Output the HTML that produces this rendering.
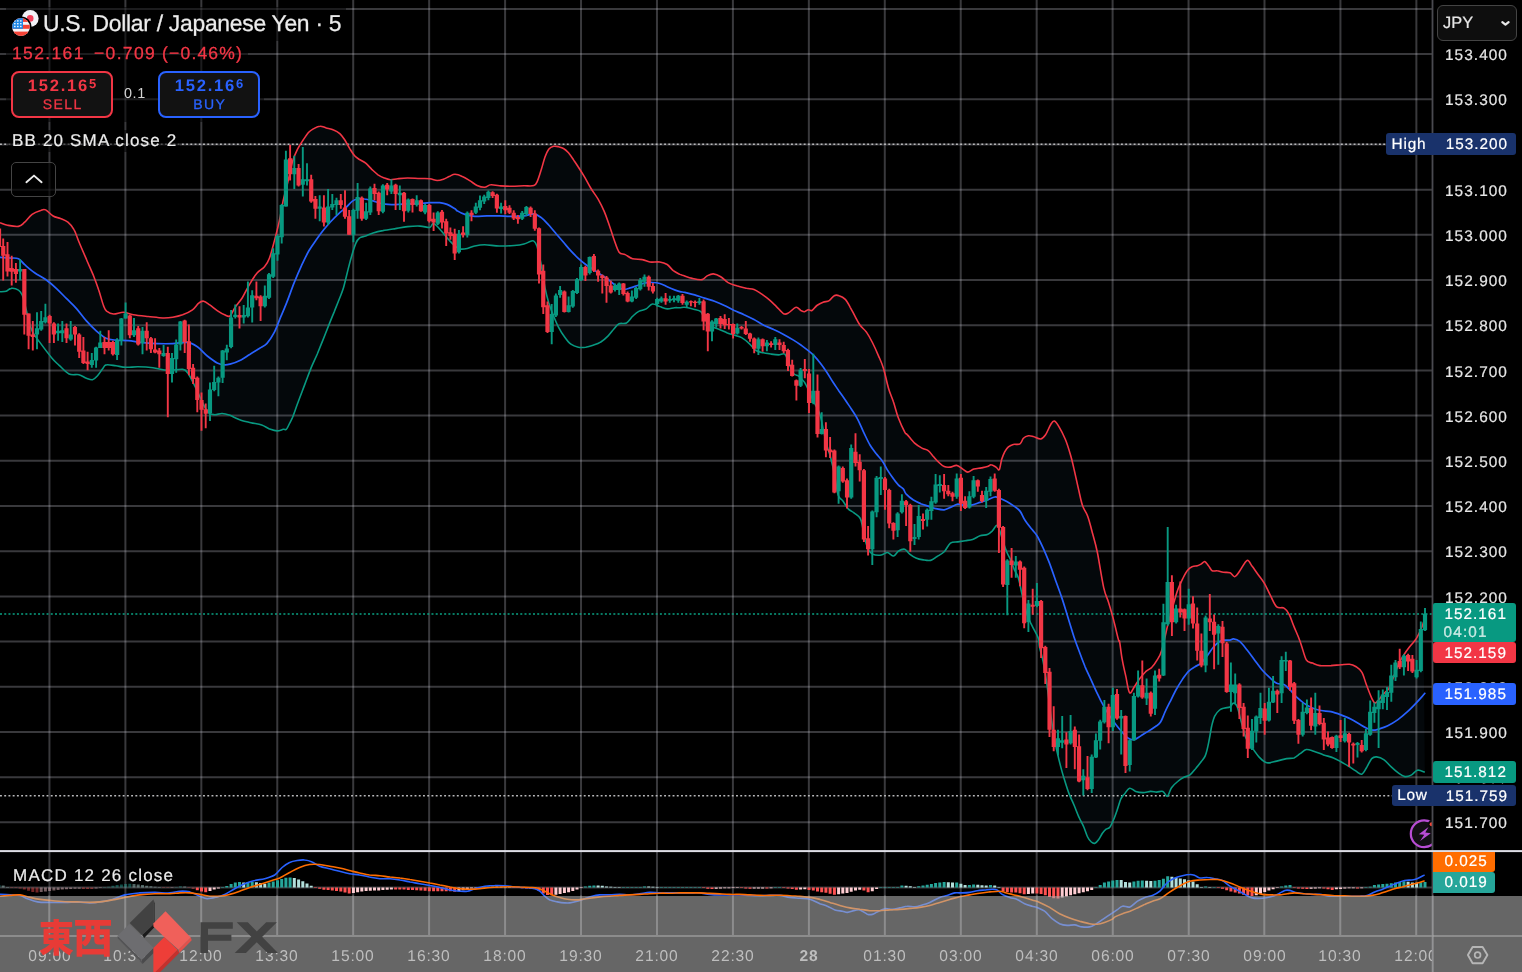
<!DOCTYPE html><html><head><meta charset="utf-8"><title>USDJPY</title><style>
html,body{margin:0;padding:0;background:#000;}
body{width:1522px;height:972px;overflow:hidden;position:relative;font-family:"Liberation Sans",sans-serif;color:#e6e6e6;text-rendering:geometricPrecision;}
svg{position:absolute;left:0;top:0;}
.t,.pl,.tag,.tl,.box{will-change:transform;}
.t{position:absolute;white-space:nowrap;line-height:1;}
.pl{position:absolute;left:1444.9px;font-size:15.4px;letter-spacing:1.05px;color:#e6e6e6;line-height:1;white-space:nowrap;-webkit-text-stroke:0.2px #e6e6e6;}
.tag{position:absolute;left:1433px;width:83px;box-sizing:border-box;color:#fff;font-size:15.3px;letter-spacing:1.0px;line-height:1;white-space:nowrap;border-radius:3px;-webkit-text-stroke:0.2px #fff;}
.tag span{position:absolute;left:11.6px;}
.tl{position:absolute;top:947.2px;font-size:15.6px;letter-spacing:0.85px;color:#bebebe;line-height:1;white-space:nowrap;transform:translateX(-50%);}
.box{position:absolute;top:71px;width:102px;height:46.5px;box-sizing:border-box;border-radius:8px;background:#121212;text-align:center;}
.box b{position:absolute;left:0;right:0;top:5.4px;font-size:16.6px;letter-spacing:1.75px;line-height:1;}
.box b sup{font-size:13px;position:relative;top:-3.4px;vertical-align:baseline;letter-spacing:0;line-height:0;}
.box i{position:absolute;left:0;right:0;top:24.3px;font-style:normal;font-size:14px;letter-spacing:1.45px;line-height:1;padding-left:1.45px;-webkit-text-stroke:0.3px currentColor;}
</style></head><body>
<svg width="1522" height="972" viewBox="0 0 1522 972"><path d="M0.0 222.7C1.2 223.1 4.3 224.6 7.4 225.2C10.5 225.8 15.6 226.9 18.5 226.4C21.4 225.9 22.4 224.2 24.7 222.2C26.9 220.2 29.4 216.3 32.1 214.3C34.8 212.3 38.5 211.1 40.7 210.4C43.0 209.6 43.6 208.9 45.7 209.9C47.7 210.8 50.6 214.6 53.1 216.0C55.5 217.5 58.0 217.5 60.5 218.5C62.9 219.5 65.6 220.4 67.9 222.2C70.1 224.1 72.2 226.3 74.0 229.6C75.9 232.9 76.9 237.0 79.0 242.0C81.0 246.9 83.9 253.5 86.4 259.2C88.8 265.0 91.7 271.4 93.8 276.5C95.8 281.6 97.1 285.1 98.7 290.1C100.4 295.0 102.3 302.6 103.7 306.1C105.0 309.6 105.0 309.7 106.6 311.1C108.3 312.4 110.7 313.8 113.5 314.0C116.3 314.2 120.1 312.2 123.4 312.3C126.7 312.4 129.2 314.1 133.3 314.8C137.4 315.5 143.1 316.0 148.1 316.5C153.0 317.0 158.8 317.8 162.9 318.0C167.0 318.1 169.5 317.8 172.8 317.2C176.0 316.7 179.3 316.0 182.6 314.8C185.9 313.5 189.8 311.8 192.5 309.8C195.2 307.9 196.8 304.6 198.7 303.2C200.5 301.7 201.8 300.9 203.6 301.2C205.5 301.5 207.5 303.3 209.8 304.9C212.0 306.4 214.7 308.9 217.2 310.6C219.6 312.2 222.4 313.9 224.6 314.8C226.7 315.7 228.3 317.2 230.0 316.0C231.7 314.8 232.8 310.6 234.9 307.6C236.9 304.5 239.8 301.6 242.3 297.7C244.7 293.8 247.2 288.2 249.7 284.1C252.1 280.0 254.6 275.9 257.1 273.0C259.6 270.1 262.4 269.3 264.5 266.8C266.5 264.4 267.8 262.5 269.4 258.2C271.1 253.9 272.7 247.1 274.4 240.9C276.0 234.8 277.9 227.8 279.3 221.2C280.7 214.6 281.6 208.0 283.0 201.4C284.4 194.9 286.4 188.3 287.9 181.7C289.5 175.1 290.8 167.3 292.4 162.0C293.9 156.6 295.5 153.2 297.3 149.6C299.1 146.0 301.1 143.1 303.0 140.2C304.9 137.4 306.9 134.3 308.7 132.3C310.5 130.4 312.0 129.7 313.8 128.6C315.7 127.6 318.0 126.3 320.0 126.2C322.1 126.0 323.9 127.3 326.2 127.9C328.4 128.5 331.3 128.9 333.6 129.9C335.9 130.8 337.9 131.9 339.8 133.6C341.6 135.2 343.0 137.3 344.7 139.7C346.3 142.2 348.0 145.7 349.6 148.4C351.3 151.1 352.9 153.9 354.6 155.8C356.2 157.6 357.7 158.3 359.5 159.5C361.4 160.7 363.6 161.5 365.7 163.2C367.7 164.8 369.8 167.4 371.8 169.4C373.9 171.3 376.0 173.3 378.0 174.8C380.1 176.2 382.1 177.2 384.2 178.0C386.2 178.8 388.1 179.6 390.4 179.7C392.6 179.8 394.9 179.0 397.8 178.7C400.6 178.4 403.9 178.0 407.6 178.0C411.3 178.0 416.3 178.4 420.0 178.5C423.7 178.6 427.0 178.4 429.8 178.7C432.7 179.1 435.0 180.4 437.2 180.5C439.5 180.5 441.4 179.9 443.4 179.2C445.5 178.5 447.6 177.1 449.6 176.3C451.5 175.4 452.9 174.3 455.0 174.3C457.1 174.3 459.9 175.3 462.3 176.4C464.8 177.4 467.3 179.1 469.7 180.6C472.2 182.1 474.7 184.4 477.1 185.5C479.6 186.6 482.3 187.4 484.6 187.3C486.8 187.1 488.3 185.0 490.7 184.8C493.2 184.5 495.9 185.5 499.4 185.8C502.9 186.0 507.6 186.3 511.7 186.3C515.8 186.3 520.3 185.9 524.0 185.8C527.7 185.7 531.6 186.4 533.9 185.5C536.2 184.7 536.4 183.3 537.6 180.6C538.8 177.9 540.1 173.4 541.3 169.5C542.5 165.6 543.8 160.5 545.0 157.1C546.2 153.8 547.3 151.1 548.7 149.2C550.2 147.4 552.0 146.7 553.7 146.3C555.3 145.9 556.9 146.4 558.6 146.8C560.2 147.2 561.9 147.5 563.5 148.5C565.2 149.5 566.8 150.9 568.5 152.7C570.1 154.6 571.8 157.2 573.4 159.6C575.0 162.0 576.5 164.1 578.3 167.0C580.2 169.9 582.4 173.4 584.5 176.9C586.6 180.4 588.4 184.3 590.7 188.0C592.9 191.7 595.8 195.2 598.1 199.1C600.3 203.0 602.4 207.1 604.2 211.4C606.1 215.8 607.5 220.3 609.2 225.0C610.8 229.7 612.5 235.3 614.1 239.8C615.8 244.3 617.2 249.7 619.1 252.2C620.9 254.6 623.0 253.5 625.2 254.6C627.5 255.7 629.7 258.0 632.6 258.8C635.5 259.6 639.6 259.0 642.5 259.6C645.4 260.1 647.0 261.6 649.9 262.0C652.8 262.4 656.9 261.6 659.8 262.0C662.7 262.4 664.9 263.1 667.2 264.5C669.4 265.9 671.2 269.0 673.3 270.7C675.5 272.3 678.5 273.6 680.0 274.4C681.5 275.1 680.4 274.5 682.4 275.2C684.4 275.8 689.0 277.6 692.3 278.4C695.6 279.1 699.7 280.0 702.1 279.6C704.6 279.2 705.2 276.9 707.1 275.9C708.9 275.0 711.0 273.8 713.3 273.9C715.5 274.1 718.2 275.2 720.7 276.7C723.1 278.1 725.4 281.1 728.1 282.6C730.7 284.1 733.6 284.8 736.7 285.8C739.8 286.7 743.7 287.6 746.6 288.3C749.4 288.9 751.5 288.5 754.0 289.5C756.4 290.4 758.9 292.3 761.4 293.9C763.8 295.6 766.3 297.3 768.8 299.4C771.2 301.4 773.7 303.9 776.2 306.3C778.7 308.7 781.5 312.6 783.6 313.7C785.6 314.8 786.5 314.0 788.5 312.9C790.6 311.9 793.9 307.7 795.9 307.3C798.0 306.8 799.4 309.7 800.9 310.5C802.3 311.2 803.3 311.8 804.6 311.7C805.8 311.6 807.0 309.9 808.3 309.7C809.5 309.5 810.5 311.2 812.0 310.5C813.4 309.8 815.1 306.9 816.9 305.5C818.8 304.2 821.0 303.1 823.1 302.3C825.1 301.5 827.4 301.7 829.2 300.6C831.1 299.5 832.5 296.5 834.2 295.7C835.8 294.8 837.3 295.0 839.1 295.7C841.0 296.3 843.4 297.4 845.3 299.4C847.1 301.3 848.6 304.4 850.2 307.3C851.9 310.1 853.5 313.6 855.2 316.6C856.8 319.6 858.2 322.7 860.1 325.3C861.9 327.8 864.2 329.1 866.3 331.9C868.3 334.8 870.4 338.5 872.4 342.5C874.5 346.6 876.8 351.8 878.6 356.1C880.5 360.4 881.9 363.1 883.5 368.5C885.2 373.8 886.8 382.7 888.5 388.2C890.1 393.8 891.8 396.8 893.4 401.8C895.1 406.7 896.4 412.7 898.3 417.8C900.3 423.0 903.5 429.8 905.0 432.6C906.5 435.4 905.6 432.8 907.2 434.6C908.8 436.3 912.2 440.9 914.6 443.2C917.1 445.5 919.8 446.9 922.0 448.1C924.3 449.4 926.4 449.2 928.2 450.6C930.1 451.9 931.5 454.4 933.1 456.3C934.8 458.1 936.2 460.0 938.1 461.7C939.9 463.4 942.2 465.7 944.2 466.6C946.3 467.5 948.4 467.3 950.4 467.1C952.5 466.9 954.5 465.1 956.6 465.4C958.6 465.7 960.9 468.0 962.8 469.1C964.6 470.2 965.8 472.1 967.7 472.1C969.5 472.1 971.6 469.8 973.9 469.1C976.1 468.4 979.0 468.3 981.3 467.9C983.5 467.5 985.8 467.2 987.4 466.6C989.1 466.1 989.7 464.6 991.1 464.7C992.6 464.7 994.7 466.3 996.1 467.1C997.4 467.9 998.3 470.9 999.3 469.6C1000.2 468.3 1000.8 462.2 1001.7 459.2C1002.7 456.3 1003.6 453.9 1004.7 451.8C1005.8 449.8 1007.0 448.1 1008.4 446.9C1009.9 445.7 1011.4 444.9 1013.3 444.4C1015.3 443.9 1018.3 445.0 1020.0 443.9C1021.7 442.9 1022.1 439.6 1023.4 438.3C1024.8 436.9 1026.7 436.1 1028.4 435.8C1030.0 435.5 1031.3 436.0 1033.3 436.5C1035.4 437.1 1038.7 439.3 1040.7 439.0C1042.8 438.7 1044.0 436.9 1045.7 434.6C1047.3 432.2 1049.2 426.9 1050.6 424.7C1052.0 422.4 1052.9 420.6 1054.3 421.0C1055.7 421.4 1057.4 424.1 1059.2 427.1C1061.1 430.2 1063.5 435.0 1065.4 439.5C1067.3 444.0 1068.9 449.4 1070.3 454.3C1071.8 459.2 1072.6 462.9 1074.0 469.1C1075.5 475.3 1077.5 485.1 1079.0 491.3C1080.4 497.5 1081.2 502.0 1082.7 506.1C1084.1 510.2 1086.0 511.5 1087.6 516.0C1089.3 520.5 1090.9 527.1 1092.5 533.3C1094.2 539.4 1095.6 544.0 1097.5 553.0C1099.3 562.1 1101.8 579.3 1103.7 587.6C1105.5 595.8 1106.9 597.0 1108.6 602.4C1110.2 607.7 1111.9 613.4 1113.5 619.6C1115.2 625.9 1117.4 636.1 1118.5 639.9C1119.5 643.6 1119.1 638.8 1119.7 642.1C1120.3 645.3 1121.1 653.6 1122.2 659.4C1123.2 665.1 1124.6 671.1 1125.9 676.6C1127.1 682.2 1128.1 691.0 1129.6 692.7C1131.0 694.3 1132.9 688.8 1134.5 686.5C1136.1 684.2 1137.6 681.6 1139.4 679.1C1141.3 676.6 1143.6 673.7 1145.6 671.7C1147.7 669.7 1149.9 669.1 1151.8 667.3C1153.6 665.4 1155.1 663.3 1156.7 660.6C1158.4 657.8 1159.8 656.7 1161.6 650.7C1163.5 644.8 1165.8 632.9 1167.8 624.8C1169.9 616.7 1172.3 608.1 1174.0 602.3C1175.6 596.5 1176.3 593.9 1177.7 590.0C1179.1 586.1 1181.0 582.2 1182.6 578.9C1184.3 575.6 1185.9 572.3 1187.6 570.3C1189.2 568.2 1190.9 567.3 1192.5 566.6C1194.1 565.8 1196.0 566.2 1197.4 565.8C1198.9 565.4 1199.9 564.8 1201.1 564.1C1202.4 563.4 1203.6 561.3 1204.8 561.6C1206.1 561.9 1207.3 564.3 1208.5 565.8C1209.8 567.3 1210.8 569.9 1212.2 570.8C1213.7 571.6 1215.3 570.5 1217.2 570.8C1219.0 571.0 1221.2 571.9 1223.3 572.2C1225.5 572.6 1228.1 572.0 1230.0 572.7C1231.9 573.5 1233.1 577.0 1234.7 576.7C1236.4 576.4 1237.6 573.8 1239.7 571.0C1241.7 568.3 1245.0 561.3 1247.1 560.4C1249.1 559.6 1250.2 563.7 1252.0 566.1C1253.9 568.5 1256.1 571.9 1258.2 574.7C1260.2 577.6 1262.3 579.9 1264.4 583.4C1266.4 586.9 1268.5 591.8 1270.5 595.7C1272.6 599.6 1274.4 604.8 1276.7 606.8C1279.0 608.9 1282.0 606.8 1284.1 608.1C1286.2 609.3 1287.4 611.1 1289.0 614.2C1290.7 617.3 1292.1 622.0 1294.0 626.6C1295.8 631.1 1298.1 635.8 1300.1 641.4C1302.2 646.9 1304.3 656.3 1306.3 659.9C1308.4 663.5 1310.2 662.1 1312.5 663.1C1314.7 664.0 1316.8 665.2 1319.9 665.6C1323.0 666.0 1327.5 665.7 1331.0 665.6C1334.5 665.4 1337.8 665.0 1340.9 664.8C1343.9 664.6 1347.0 664.0 1349.5 664.3C1352.0 664.6 1353.6 665.2 1355.7 666.5C1357.7 667.9 1360.0 669.0 1361.8 672.2C1363.7 675.4 1365.1 681.5 1366.8 685.8C1368.4 690.1 1370.4 695.3 1371.7 698.1C1373.1 701.0 1373.7 702.9 1374.9 703.1C1376.2 703.3 1377.6 701.0 1379.1 699.4C1380.6 697.7 1382.4 695.1 1384.1 693.2C1385.7 691.4 1387.3 691.1 1389.0 688.3C1390.6 685.4 1392.3 680.0 1393.9 675.9C1395.6 671.8 1397.2 667.1 1398.9 663.6C1400.5 660.1 1401.9 657.8 1403.8 655.0C1405.6 652.1 1407.9 649.0 1410.0 646.3C1412.0 643.6 1414.3 641.8 1416.1 638.9C1418.0 636.0 1419.8 631.8 1421.1 629.0C1422.3 626.2 1423.1 623.3 1423.5 622.1L1424.8 772.2C1423.5 771.8 1419.6 769.7 1417.4 770.2C1415.1 770.7 1413.3 774.1 1411.2 775.1C1409.1 776.2 1407.1 776.9 1405.0 776.6C1403.0 776.3 1401.1 775.0 1398.9 773.4C1396.6 771.8 1393.9 769.5 1391.5 767.2C1389.0 765.0 1386.5 761.6 1384.1 759.8C1381.6 758.1 1378.7 757.1 1376.6 756.9C1374.6 756.7 1373.4 756.9 1371.7 758.6C1370.1 760.3 1368.4 764.6 1366.8 767.2C1365.1 769.8 1363.7 773.5 1361.8 774.2C1360.0 774.8 1357.9 772.3 1355.7 770.9C1353.4 769.6 1350.7 767.5 1348.3 766.0C1345.8 764.5 1343.3 763.2 1340.9 761.8C1338.4 760.5 1336.3 759.0 1333.5 757.9C1330.6 756.7 1326.9 756.0 1323.6 754.9C1320.3 753.8 1316.6 752.1 1313.7 751.2C1310.8 750.3 1308.6 749.1 1306.3 749.5C1304.1 749.9 1302.2 752.3 1300.1 753.7C1298.1 755.1 1296.2 757.0 1294.0 757.9C1291.7 758.7 1289.4 758.1 1286.6 758.6C1283.7 759.1 1280.0 760.4 1276.7 761.1C1273.4 761.8 1269.7 763.4 1266.8 762.8C1263.9 762.2 1261.9 759.9 1259.4 757.4C1257.0 754.8 1254.3 750.8 1252.0 747.5C1249.8 744.2 1247.7 742.2 1245.8 737.6C1244.0 733.1 1242.4 725.5 1240.9 720.4C1239.5 715.2 1238.4 709.7 1237.2 706.8C1236.0 703.9 1234.7 703.0 1233.5 703.1C1232.3 703.1 1231.5 706.2 1230.0 707.0C1228.5 707.8 1226.3 707.5 1224.6 708.0C1222.9 708.5 1221.3 708.6 1219.6 710.0C1218.0 711.3 1216.0 713.4 1214.7 716.1C1213.4 718.8 1212.8 721.5 1211.7 726.0C1210.7 730.5 1209.6 738.3 1208.5 743.3C1207.5 748.2 1206.6 752.5 1205.3 755.6C1204.1 758.7 1202.7 759.7 1201.1 761.8C1199.6 763.8 1198.1 765.8 1196.2 767.9C1194.3 770.1 1192.1 773.3 1190.0 774.9C1188.0 776.4 1185.9 776.2 1183.9 777.3C1181.8 778.4 1179.7 779.8 1177.7 781.5C1175.6 783.2 1173.2 785.2 1171.5 787.7C1169.8 790.2 1168.8 795.7 1167.3 796.3C1165.9 796.9 1164.7 792.1 1162.9 791.4C1161.1 790.7 1158.8 792.1 1156.7 792.1C1154.7 792.1 1152.8 791.3 1150.5 791.4C1148.3 791.5 1145.6 792.6 1143.1 792.6C1140.7 792.6 1138.0 792.1 1135.7 791.4C1133.5 790.7 1131.4 787.8 1129.6 788.2C1127.7 788.6 1126.1 792.1 1124.6 793.9C1123.2 795.6 1122.2 796.1 1120.9 798.8C1119.7 801.5 1118.5 806.4 1117.2 809.9C1116.0 813.4 1114.8 816.9 1113.5 819.8C1112.3 822.7 1111.1 825.6 1109.8 827.2C1108.6 828.7 1107.4 828.1 1106.1 829.2C1104.9 830.2 1103.7 831.6 1102.4 833.3C1101.2 835.1 1100.0 837.9 1098.7 839.5C1097.5 841.2 1096.2 842.8 1095.0 843.2C1093.8 843.6 1092.5 843.0 1091.3 842.0C1090.1 841.0 1088.8 839.5 1087.6 837.0C1086.4 834.6 1085.3 830.5 1083.9 827.2C1082.5 823.9 1080.6 821.0 1079.0 817.3C1077.3 813.6 1075.7 808.9 1074.0 805.0C1072.4 801.1 1070.5 797.6 1069.1 793.9C1067.7 790.2 1066.6 786.7 1065.4 782.8C1064.2 778.8 1062.9 774.9 1061.7 770.4C1060.5 765.9 1059.2 761.0 1058.0 755.6C1056.8 750.3 1055.5 745.3 1054.3 738.3C1053.1 731.3 1051.8 722.7 1050.6 713.7C1049.4 704.6 1048.1 692.7 1046.9 684.0C1045.7 675.4 1044.4 668.0 1043.2 661.8C1042.0 655.7 1040.3 651.0 1039.5 647.0C1038.7 643.1 1039.5 641.7 1038.3 638.2C1037.0 634.6 1033.9 629.7 1032.1 625.8C1030.2 621.9 1028.8 619.9 1027.1 614.7C1025.5 609.6 1023.7 601.1 1022.2 595.0C1020.7 588.8 1019.6 581.8 1018.3 577.7C1017.0 573.6 1015.8 573.2 1014.6 570.3C1013.3 567.4 1012.1 563.3 1010.9 560.4C1009.6 557.5 1008.4 555.9 1007.2 553.0C1005.9 550.1 1004.7 546.8 1003.5 543.1C1002.2 539.4 1000.9 533.8 999.8 530.8C998.7 527.8 998.0 525.4 996.8 525.4C995.6 525.4 993.9 529.3 992.4 530.8C990.8 532.3 989.5 533.7 987.4 534.5C985.4 535.3 982.5 534.9 980.0 535.7C977.6 536.6 975.1 538.6 972.6 539.4C970.2 540.3 967.7 540.3 965.2 540.7C962.8 541.1 960.3 541.5 957.8 541.9C955.4 542.3 952.7 541.5 950.4 543.1C948.2 544.8 946.5 549.5 944.2 551.8C942.0 554.0 939.1 555.3 936.8 556.7C934.6 558.2 932.9 559.9 930.7 560.4C928.4 560.9 925.7 560.3 923.3 559.9C920.8 559.5 918.1 558.9 915.9 557.9C913.6 557.0 911.5 555.7 909.7 554.2C907.8 552.8 906.6 549.8 904.8 549.3C902.9 548.8 900.4 549.9 898.6 551.0C896.7 552.1 895.5 555.7 893.7 556.0C891.8 556.2 889.5 552.7 887.5 552.5C885.4 552.4 883.8 554.7 881.3 555.0C878.8 555.3 874.7 555.0 872.7 554.2C870.6 553.5 870.2 552.8 869.0 550.5C867.7 548.3 866.3 544.4 865.3 540.7C864.2 537.0 863.6 532.0 862.8 528.3C862.0 524.6 861.8 521.0 860.3 518.5C858.9 515.9 856.2 514.7 854.2 513.0C852.1 511.4 849.8 510.6 848.0 508.6C846.1 506.6 844.7 503.4 843.1 501.2C841.4 498.9 839.6 499.5 838.1 495.0C836.7 490.5 835.7 480.2 834.4 474.0C833.2 467.9 832.0 462.7 830.7 458.0C829.5 453.3 828.3 450.4 827.0 445.7C825.8 440.9 824.6 435.0 823.3 429.6C822.1 424.3 821.3 418.4 819.6 413.6C817.9 408.7 815.5 405.3 813.2 400.5C810.9 395.6 807.6 388.0 805.8 384.5C803.9 381.0 803.3 381.0 802.1 379.6C800.9 378.1 799.8 376.9 798.4 375.9C797.0 374.8 795.1 375.7 793.5 373.4C791.8 371.1 790.0 365.5 788.5 362.3C787.1 359.1 786.5 355.4 784.8 354.1C783.2 352.9 780.9 354.9 778.7 354.9C776.4 354.9 774.1 354.6 771.2 354.1C768.4 353.7 764.1 353.1 761.4 352.4C758.7 351.7 757.3 351.5 755.2 350.0C753.2 348.4 751.3 345.3 749.0 343.3C746.8 341.2 744.1 339.0 741.6 337.6C739.2 336.3 736.7 336.0 734.2 335.1C731.8 334.3 729.3 333.6 726.8 332.7C724.4 331.7 721.9 330.5 719.4 329.5C717.0 328.4 714.5 328.2 712.0 326.5C709.6 324.8 706.5 321.6 704.6 319.1C702.8 316.6 702.8 313.3 700.9 311.7C699.1 310.1 696.2 310.0 693.5 309.2C690.8 308.5 687.1 307.5 684.9 307.3C682.6 307.0 681.7 307.6 680.0 307.7C678.3 307.8 676.7 307.5 674.6 307.7C672.4 307.9 669.6 309.1 667.2 308.9C664.7 308.7 662.2 307.3 659.8 306.5C657.3 305.6 654.6 303.6 652.4 304.0C650.1 304.4 648.5 307.7 646.2 308.9C643.9 310.2 641.1 310.2 638.8 311.4C636.5 312.6 634.7 314.4 632.6 316.3C630.6 318.3 628.7 321.8 626.5 323.0C624.2 324.2 621.1 322.8 619.1 323.7C617.0 324.7 616.0 326.6 614.1 328.7C612.3 330.7 610.2 333.8 607.9 336.1C605.7 338.3 603.0 340.7 600.5 342.2C598.1 343.8 595.6 344.4 593.1 345.2C590.7 346.0 588.2 346.8 585.7 347.2C583.3 347.5 580.8 347.7 578.3 347.2C575.9 346.7 573.2 345.9 570.9 344.2C568.7 342.6 566.8 340.1 564.8 337.3C562.7 334.5 560.4 330.9 558.6 327.4C556.7 323.9 555.3 320.4 553.7 316.3C552.0 312.2 550.2 307.5 548.7 302.8C547.3 298.0 546.2 293.7 545.0 287.9C543.9 282.2 542.8 273.6 541.8 268.2C540.9 262.9 540.2 259.6 539.3 255.9C538.5 252.2 537.8 248.5 536.9 246.0C536.0 243.5 535.0 241.8 533.9 241.1C532.8 240.3 531.9 241.1 530.2 241.5C528.6 242.0 526.7 243.4 524.0 244.0C521.4 244.7 518.3 245.2 514.2 245.5C510.1 245.8 504.3 246.1 499.4 246.0C494.4 245.9 488.7 244.8 484.6 244.8C480.4 244.8 477.6 245.4 474.7 246.0C471.8 246.6 469.7 248.0 467.3 248.5C464.8 249.0 461.9 249.4 459.9 249.0C457.8 248.5 456.6 247.3 454.9 246.0C453.3 244.7 453.4 244.7 450.0 241.1C446.6 237.4 438.1 226.4 434.8 224.1C431.4 221.9 432.3 227.0 429.8 227.4C427.4 227.7 423.7 226.2 420.0 226.1C416.3 226.0 411.7 226.2 407.6 226.6C403.5 227.0 399.4 227.9 395.3 228.6C391.2 229.2 386.6 229.8 382.9 230.6C379.2 231.3 376.0 232.1 373.1 233.0C370.2 233.9 367.9 235.2 365.7 236.0C363.4 236.8 361.1 236.7 359.5 238.0C357.9 239.2 357.0 240.6 355.8 243.4C354.6 246.2 353.3 250.4 352.1 254.5C350.9 258.6 349.8 262.5 348.4 268.1C347.0 273.6 345.0 282.5 343.5 287.8C341.9 293.1 340.4 296.0 338.9 300.0C337.4 304.0 335.8 307.7 334.3 311.6C332.7 315.4 331.4 318.6 329.6 323.1C327.8 327.6 325.5 333.4 323.5 338.6C321.4 343.7 319.3 349.1 317.3 354.0C315.2 358.9 313.2 362.9 311.1 367.9C309.1 372.9 307.0 378.7 304.9 384.1C302.9 389.5 300.8 394.8 298.8 400.3C296.7 405.8 294.1 413.4 292.6 417.3C291.0 421.1 290.5 421.5 289.5 423.5C288.5 425.5 287.4 428.3 286.4 429.3C285.4 430.3 284.9 429.1 283.3 429.3C281.8 429.6 279.5 430.9 277.2 430.9C274.8 430.8 272.0 429.8 269.4 428.9C266.9 427.9 264.8 426.0 261.7 425.0C258.6 424.0 254.3 423.5 250.9 422.7C247.6 421.9 244.5 421.3 241.7 420.4C238.8 419.5 235.9 418.1 234.0 417.3C232.0 416.4 232.0 415.8 230.0 415.2C228.0 414.6 224.7 413.6 222.1 413.5C219.6 413.4 217.0 414.8 214.7 414.7C212.4 414.6 210.6 414.8 208.5 412.7C206.5 410.7 204.2 405.9 202.4 402.4C200.5 398.8 199.1 394.8 197.4 391.3C195.8 387.8 194.1 384.5 192.5 381.4C190.9 378.3 189.2 374.8 187.6 372.8C185.9 370.7 185.9 369.7 182.6 369.3C179.3 368.9 172.8 370.5 167.8 370.3C162.9 370.0 157.9 368.4 153.0 367.8C148.1 367.2 142.7 366.9 138.2 366.8C133.7 366.7 129.6 367.5 125.9 367.3C122.2 367.2 119.3 366.3 116.0 365.8C112.7 365.4 108.4 364.3 106.1 364.9C103.9 365.4 103.9 367.2 102.4 369.1C101.0 370.9 99.1 373.9 97.5 375.7C95.8 377.5 94.4 379.3 92.5 379.7C90.7 380.1 88.6 379.0 86.4 378.2C84.1 377.4 81.9 375.4 79.0 374.7C76.1 374.0 72.4 375.6 69.1 374.0C65.8 372.4 62.1 368.0 59.2 365.4C56.4 362.7 55.1 361.9 51.8 357.9C48.5 354.0 42.8 346.4 39.5 341.9C36.2 337.4 33.9 334.7 32.1 330.8C30.2 326.9 29.6 323.0 28.4 318.5C27.1 313.9 25.7 307.6 24.7 303.7C23.7 299.7 23.2 297.3 22.2 295.0C21.2 292.8 20.4 291.2 18.5 290.1C16.7 289.0 13.2 288.1 11.1 288.4C9.0 288.6 8.0 290.7 6.2 291.3C4.3 291.9 1.0 291.7 0.0 291.8Z" fill="#04080b"/>
<g stroke="#d6d6e0" stroke-opacity="0.265" stroke-width="2"><line x1="49.45" y1="0" x2="49.45" y2="936"/><line x1="125.39" y1="0" x2="125.39" y2="936"/><line x1="201.33" y1="0" x2="201.33" y2="936"/><line x1="277.27" y1="0" x2="277.27" y2="936"/><line x1="353.21" y1="0" x2="353.21" y2="936"/><line x1="429.15" y1="0" x2="429.15" y2="936"/><line x1="505.09" y1="0" x2="505.09" y2="936"/><line x1="581.03" y1="0" x2="581.03" y2="936"/><line x1="656.97" y1="0" x2="656.97" y2="936"/><line x1="732.91" y1="0" x2="732.91" y2="936"/><line x1="808.85" y1="0" x2="808.85" y2="936"/><line x1="884.79" y1="0" x2="884.79" y2="936"/><line x1="960.73" y1="0" x2="960.73" y2="936"/><line x1="1036.67" y1="0" x2="1036.67" y2="936"/><line x1="1112.61" y1="0" x2="1112.61" y2="936"/><line x1="1188.55" y1="0" x2="1188.55" y2="936"/><line x1="1264.49" y1="0" x2="1264.49" y2="936"/><line x1="1340.43" y1="0" x2="1340.43" y2="936"/><line x1="1416.37" y1="0" x2="1416.37" y2="936"/><line x1="0" y1="8.91" x2="1432.5" y2="8.91"/><line x1="0" y1="54.10" x2="1432.5" y2="54.10"/><line x1="0" y1="99.29" x2="1432.5" y2="99.29"/><line x1="0" y1="144.48" x2="1432.5" y2="144.48"/><line x1="0" y1="189.67" x2="1432.5" y2="189.67"/><line x1="0" y1="234.86" x2="1432.5" y2="234.86"/><line x1="0" y1="280.05" x2="1432.5" y2="280.05"/><line x1="0" y1="325.24" x2="1432.5" y2="325.24"/><line x1="0" y1="370.43" x2="1432.5" y2="370.43"/><line x1="0" y1="415.62" x2="1432.5" y2="415.62"/><line x1="0" y1="460.81" x2="1432.5" y2="460.81"/><line x1="0" y1="506.00" x2="1432.5" y2="506.00"/><line x1="0" y1="551.19" x2="1432.5" y2="551.19"/><line x1="0" y1="596.38" x2="1432.5" y2="596.38"/><line x1="0" y1="641.57" x2="1432.5" y2="641.57"/><line x1="0" y1="686.76" x2="1432.5" y2="686.76"/><line x1="0" y1="731.95" x2="1432.5" y2="731.95"/><line x1="0" y1="777.14" x2="1432.5" y2="777.14"/><line x1="0" y1="822.33" x2="1432.5" y2="822.33"/><line x1="0" y1="887.5" x2="1432.5" y2="887.5"/></g>
<svg x="0" y="0" width="1432" height="850" viewBox="0 0 1432 850">
<line x1="0" y1="144.2" x2="1390" y2="144.2" stroke="#b8b8ba" stroke-width="1.4" stroke-dasharray="1.9 2.33"/>
<line x1="0" y1="795.7" x2="1395" y2="795.7" stroke="#b8b8ba" stroke-width="1.4" stroke-dasharray="1.9 2.33"/>
<line x1="0" y1="614.0" x2="1432" y2="614.0" stroke="#0aa384" stroke-width="1.7" stroke-dasharray="2.0 2.23"/>
<path d="M0.0 222.7C1.2 223.1 4.3 224.6 7.4 225.2C10.5 225.8 15.6 226.9 18.5 226.4C21.4 225.9 22.4 224.2 24.7 222.2C26.9 220.2 29.4 216.3 32.1 214.3C34.8 212.3 38.5 211.1 40.7 210.4C43.0 209.6 43.6 208.9 45.7 209.9C47.7 210.8 50.6 214.6 53.1 216.0C55.5 217.5 58.0 217.5 60.5 218.5C62.9 219.5 65.6 220.4 67.9 222.2C70.1 224.1 72.2 226.3 74.0 229.6C75.9 232.9 76.9 237.0 79.0 242.0C81.0 246.9 83.9 253.5 86.4 259.2C88.8 265.0 91.7 271.4 93.8 276.5C95.8 281.6 97.1 285.1 98.7 290.1C100.4 295.0 102.3 302.6 103.7 306.1C105.0 309.6 105.0 309.7 106.6 311.1C108.3 312.4 110.7 313.8 113.5 314.0C116.3 314.2 120.1 312.2 123.4 312.3C126.7 312.4 129.2 314.1 133.3 314.8C137.4 315.5 143.1 316.0 148.1 316.5C153.0 317.0 158.8 317.8 162.9 318.0C167.0 318.1 169.5 317.8 172.8 317.2C176.0 316.7 179.3 316.0 182.6 314.8C185.9 313.5 189.8 311.8 192.5 309.8C195.2 307.9 196.8 304.6 198.7 303.2C200.5 301.7 201.8 300.9 203.6 301.2C205.5 301.5 207.5 303.3 209.8 304.9C212.0 306.4 214.7 308.9 217.2 310.6C219.6 312.2 222.4 313.9 224.6 314.8C226.7 315.7 228.3 317.2 230.0 316.0C231.7 314.8 232.8 310.6 234.9 307.6C236.9 304.5 239.8 301.6 242.3 297.7C244.7 293.8 247.2 288.2 249.7 284.1C252.1 280.0 254.6 275.9 257.1 273.0C259.6 270.1 262.4 269.3 264.5 266.8C266.5 264.4 267.8 262.5 269.4 258.2C271.1 253.9 272.7 247.1 274.4 240.9C276.0 234.8 277.9 227.8 279.3 221.2C280.7 214.6 281.6 208.0 283.0 201.4C284.4 194.9 286.4 188.3 287.9 181.7C289.5 175.1 290.8 167.3 292.4 162.0C293.9 156.6 295.5 153.2 297.3 149.6C299.1 146.0 301.1 143.1 303.0 140.2C304.9 137.4 306.9 134.3 308.7 132.3C310.5 130.4 312.0 129.7 313.8 128.6C315.7 127.6 318.0 126.3 320.0 126.2C322.1 126.0 323.9 127.3 326.2 127.9C328.4 128.5 331.3 128.9 333.6 129.9C335.9 130.8 337.9 131.9 339.8 133.6C341.6 135.2 343.0 137.3 344.7 139.7C346.3 142.2 348.0 145.7 349.6 148.4C351.3 151.1 352.9 153.9 354.6 155.8C356.2 157.6 357.7 158.3 359.5 159.5C361.4 160.7 363.6 161.5 365.7 163.2C367.7 164.8 369.8 167.4 371.8 169.4C373.9 171.3 376.0 173.3 378.0 174.8C380.1 176.2 382.1 177.2 384.2 178.0C386.2 178.8 388.1 179.6 390.4 179.7C392.6 179.8 394.9 179.0 397.8 178.7C400.6 178.4 403.9 178.0 407.6 178.0C411.3 178.0 416.3 178.4 420.0 178.5C423.7 178.6 427.0 178.4 429.8 178.7C432.7 179.1 435.0 180.4 437.2 180.5C439.5 180.5 441.4 179.9 443.4 179.2C445.5 178.5 447.6 177.1 449.6 176.3C451.5 175.4 452.9 174.3 455.0 174.3C457.1 174.3 459.9 175.3 462.3 176.4C464.8 177.4 467.3 179.1 469.7 180.6C472.2 182.1 474.7 184.4 477.1 185.5C479.6 186.6 482.3 187.4 484.6 187.3C486.8 187.1 488.3 185.0 490.7 184.8C493.2 184.5 495.9 185.5 499.4 185.8C502.9 186.0 507.6 186.3 511.7 186.3C515.8 186.3 520.3 185.9 524.0 185.8C527.7 185.7 531.6 186.4 533.9 185.5C536.2 184.7 536.4 183.3 537.6 180.6C538.8 177.9 540.1 173.4 541.3 169.5C542.5 165.6 543.8 160.5 545.0 157.1C546.2 153.8 547.3 151.1 548.7 149.2C550.2 147.4 552.0 146.7 553.7 146.3C555.3 145.9 556.9 146.4 558.6 146.8C560.2 147.2 561.9 147.5 563.5 148.5C565.2 149.5 566.8 150.9 568.5 152.7C570.1 154.6 571.8 157.2 573.4 159.6C575.0 162.0 576.5 164.1 578.3 167.0C580.2 169.9 582.4 173.4 584.5 176.9C586.6 180.4 588.4 184.3 590.7 188.0C592.9 191.7 595.8 195.2 598.1 199.1C600.3 203.0 602.4 207.1 604.2 211.4C606.1 215.8 607.5 220.3 609.2 225.0C610.8 229.7 612.5 235.3 614.1 239.8C615.8 244.3 617.2 249.7 619.1 252.2C620.9 254.6 623.0 253.5 625.2 254.6C627.5 255.7 629.7 258.0 632.6 258.8C635.5 259.6 639.6 259.0 642.5 259.6C645.4 260.1 647.0 261.6 649.9 262.0C652.8 262.4 656.9 261.6 659.8 262.0C662.7 262.4 664.9 263.1 667.2 264.5C669.4 265.9 671.2 269.0 673.3 270.7C675.5 272.3 678.5 273.6 680.0 274.4C681.5 275.1 680.4 274.5 682.4 275.2C684.4 275.8 689.0 277.6 692.3 278.4C695.6 279.1 699.7 280.0 702.1 279.6C704.6 279.2 705.2 276.9 707.1 275.9C708.9 275.0 711.0 273.8 713.3 273.9C715.5 274.1 718.2 275.2 720.7 276.7C723.1 278.1 725.4 281.1 728.1 282.6C730.7 284.1 733.6 284.8 736.7 285.8C739.8 286.7 743.7 287.6 746.6 288.3C749.4 288.9 751.5 288.5 754.0 289.5C756.4 290.4 758.9 292.3 761.4 293.9C763.8 295.6 766.3 297.3 768.8 299.4C771.2 301.4 773.7 303.9 776.2 306.3C778.7 308.7 781.5 312.6 783.6 313.7C785.6 314.8 786.5 314.0 788.5 312.9C790.6 311.9 793.9 307.7 795.9 307.3C798.0 306.8 799.4 309.7 800.9 310.5C802.3 311.2 803.3 311.8 804.6 311.7C805.8 311.6 807.0 309.9 808.3 309.7C809.5 309.5 810.5 311.2 812.0 310.5C813.4 309.8 815.1 306.9 816.9 305.5C818.8 304.2 821.0 303.1 823.1 302.3C825.1 301.5 827.4 301.7 829.2 300.6C831.1 299.5 832.5 296.5 834.2 295.7C835.8 294.8 837.3 295.0 839.1 295.7C841.0 296.3 843.4 297.4 845.3 299.4C847.1 301.3 848.6 304.4 850.2 307.3C851.9 310.1 853.5 313.6 855.2 316.6C856.8 319.6 858.2 322.7 860.1 325.3C861.9 327.8 864.2 329.1 866.3 331.9C868.3 334.8 870.4 338.5 872.4 342.5C874.5 346.6 876.8 351.8 878.6 356.1C880.5 360.4 881.9 363.1 883.5 368.5C885.2 373.8 886.8 382.7 888.5 388.2C890.1 393.8 891.8 396.8 893.4 401.8C895.1 406.7 896.4 412.7 898.3 417.8C900.3 423.0 903.5 429.8 905.0 432.6C906.5 435.4 905.6 432.8 907.2 434.6C908.8 436.3 912.2 440.9 914.6 443.2C917.1 445.5 919.8 446.9 922.0 448.1C924.3 449.4 926.4 449.2 928.2 450.6C930.1 451.9 931.5 454.4 933.1 456.3C934.8 458.1 936.2 460.0 938.1 461.7C939.9 463.4 942.2 465.7 944.2 466.6C946.3 467.5 948.4 467.3 950.4 467.1C952.5 466.9 954.5 465.1 956.6 465.4C958.6 465.7 960.9 468.0 962.8 469.1C964.6 470.2 965.8 472.1 967.7 472.1C969.5 472.1 971.6 469.8 973.9 469.1C976.1 468.4 979.0 468.3 981.3 467.9C983.5 467.5 985.8 467.2 987.4 466.6C989.1 466.1 989.7 464.6 991.1 464.7C992.6 464.7 994.7 466.3 996.1 467.1C997.4 467.9 998.3 470.9 999.3 469.6C1000.2 468.3 1000.8 462.2 1001.7 459.2C1002.7 456.3 1003.6 453.9 1004.7 451.8C1005.8 449.8 1007.0 448.1 1008.4 446.9C1009.9 445.7 1011.4 444.9 1013.3 444.4C1015.3 443.9 1018.3 445.0 1020.0 443.9C1021.7 442.9 1022.1 439.6 1023.4 438.3C1024.8 436.9 1026.7 436.1 1028.4 435.8C1030.0 435.5 1031.3 436.0 1033.3 436.5C1035.4 437.1 1038.7 439.3 1040.7 439.0C1042.8 438.7 1044.0 436.9 1045.7 434.6C1047.3 432.2 1049.2 426.9 1050.6 424.7C1052.0 422.4 1052.9 420.6 1054.3 421.0C1055.7 421.4 1057.4 424.1 1059.2 427.1C1061.1 430.2 1063.5 435.0 1065.4 439.5C1067.3 444.0 1068.9 449.4 1070.3 454.3C1071.8 459.2 1072.6 462.9 1074.0 469.1C1075.5 475.3 1077.5 485.1 1079.0 491.3C1080.4 497.5 1081.2 502.0 1082.7 506.1C1084.1 510.2 1086.0 511.5 1087.6 516.0C1089.3 520.5 1090.9 527.1 1092.5 533.3C1094.2 539.4 1095.6 544.0 1097.5 553.0C1099.3 562.1 1101.8 579.3 1103.7 587.6C1105.5 595.8 1106.9 597.0 1108.6 602.4C1110.2 607.7 1111.9 613.4 1113.5 619.6C1115.2 625.9 1117.4 636.1 1118.5 639.9C1119.5 643.6 1119.1 638.8 1119.7 642.1C1120.3 645.3 1121.1 653.6 1122.2 659.4C1123.2 665.1 1124.6 671.1 1125.9 676.6C1127.1 682.2 1128.1 691.0 1129.6 692.7C1131.0 694.3 1132.9 688.8 1134.5 686.5C1136.1 684.2 1137.6 681.6 1139.4 679.1C1141.3 676.6 1143.6 673.7 1145.6 671.7C1147.7 669.7 1149.9 669.1 1151.8 667.3C1153.6 665.4 1155.1 663.3 1156.7 660.6C1158.4 657.8 1159.8 656.7 1161.6 650.7C1163.5 644.8 1165.8 632.9 1167.8 624.8C1169.9 616.7 1172.3 608.1 1174.0 602.3C1175.6 596.5 1176.3 593.9 1177.7 590.0C1179.1 586.1 1181.0 582.2 1182.6 578.9C1184.3 575.6 1185.9 572.3 1187.6 570.3C1189.2 568.2 1190.9 567.3 1192.5 566.6C1194.1 565.8 1196.0 566.2 1197.4 565.8C1198.9 565.4 1199.9 564.8 1201.1 564.1C1202.4 563.4 1203.6 561.3 1204.8 561.6C1206.1 561.9 1207.3 564.3 1208.5 565.8C1209.8 567.3 1210.8 569.9 1212.2 570.8C1213.7 571.6 1215.3 570.5 1217.2 570.8C1219.0 571.0 1221.2 571.9 1223.3 572.2C1225.5 572.6 1228.1 572.0 1230.0 572.7C1231.9 573.5 1233.1 577.0 1234.7 576.7C1236.4 576.4 1237.6 573.8 1239.7 571.0C1241.7 568.3 1245.0 561.3 1247.1 560.4C1249.1 559.6 1250.2 563.7 1252.0 566.1C1253.9 568.5 1256.1 571.9 1258.2 574.7C1260.2 577.6 1262.3 579.9 1264.4 583.4C1266.4 586.9 1268.5 591.8 1270.5 595.7C1272.6 599.6 1274.4 604.8 1276.7 606.8C1279.0 608.9 1282.0 606.8 1284.1 608.1C1286.2 609.3 1287.4 611.1 1289.0 614.2C1290.7 617.3 1292.1 622.0 1294.0 626.6C1295.8 631.1 1298.1 635.8 1300.1 641.4C1302.2 646.9 1304.3 656.3 1306.3 659.9C1308.4 663.5 1310.2 662.1 1312.5 663.1C1314.7 664.0 1316.8 665.2 1319.9 665.6C1323.0 666.0 1327.5 665.7 1331.0 665.6C1334.5 665.4 1337.8 665.0 1340.9 664.8C1343.9 664.6 1347.0 664.0 1349.5 664.3C1352.0 664.6 1353.6 665.2 1355.7 666.5C1357.7 667.9 1360.0 669.0 1361.8 672.2C1363.7 675.4 1365.1 681.5 1366.8 685.8C1368.4 690.1 1370.4 695.3 1371.7 698.1C1373.1 701.0 1373.7 702.9 1374.9 703.1C1376.2 703.3 1377.6 701.0 1379.1 699.4C1380.6 697.7 1382.4 695.1 1384.1 693.2C1385.7 691.4 1387.3 691.1 1389.0 688.3C1390.6 685.4 1392.3 680.0 1393.9 675.9C1395.6 671.8 1397.2 667.1 1398.9 663.6C1400.5 660.1 1401.9 657.8 1403.8 655.0C1405.6 652.1 1407.9 649.0 1410.0 646.3C1412.0 643.6 1414.3 641.8 1416.1 638.9C1418.0 636.0 1419.8 631.8 1421.1 629.0C1422.3 626.2 1423.1 623.3 1423.5 622.1" fill="none" stroke="#f23645" stroke-width="1.6" stroke-linejoin="round"/>
<path d="M0.0 291.8C1.0 291.7 4.3 291.9 6.2 291.3C8.0 290.7 9.0 288.6 11.1 288.4C13.2 288.1 16.7 289.0 18.5 290.1C20.4 291.2 21.2 292.8 22.2 295.0C23.2 297.3 23.7 299.7 24.7 303.7C25.7 307.6 27.1 313.9 28.4 318.5C29.6 323.0 30.2 326.9 32.1 330.8C33.9 334.7 36.2 337.4 39.5 341.9C42.8 346.4 48.5 354.0 51.8 357.9C55.1 361.9 56.4 362.7 59.2 365.4C62.1 368.0 65.8 372.4 69.1 374.0C72.4 375.6 76.1 374.0 79.0 374.7C81.9 375.4 84.1 377.4 86.4 378.2C88.6 379.0 90.7 380.1 92.5 379.7C94.4 379.3 95.8 377.5 97.5 375.7C99.1 373.9 101.0 370.9 102.4 369.1C103.9 367.2 103.9 365.4 106.1 364.9C108.4 364.3 112.7 365.4 116.0 365.8C119.3 366.3 122.2 367.2 125.9 367.3C129.6 367.5 133.7 366.7 138.2 366.8C142.7 366.9 148.1 367.2 153.0 367.8C157.9 368.4 162.9 370.0 167.8 370.3C172.8 370.5 179.3 368.9 182.6 369.3C185.9 369.7 185.9 370.7 187.6 372.8C189.2 374.8 190.9 378.3 192.5 381.4C194.1 384.5 195.8 387.8 197.4 391.3C199.1 394.8 200.5 398.8 202.4 402.4C204.2 405.9 206.5 410.7 208.5 412.7C210.6 414.8 212.4 414.6 214.7 414.7C217.0 414.8 219.6 413.4 222.1 413.5C224.7 413.6 228.0 414.6 230.0 415.2C232.0 415.8 232.0 416.4 234.0 417.3C235.9 418.1 238.8 419.5 241.7 420.4C244.5 421.3 247.6 421.9 250.9 422.7C254.3 423.5 258.6 424.0 261.7 425.0C264.8 426.0 266.9 427.9 269.4 428.9C272.0 429.8 274.8 430.8 277.2 430.9C279.5 430.9 281.8 429.6 283.3 429.3C284.9 429.1 285.4 430.3 286.4 429.3C287.4 428.3 288.5 425.5 289.5 423.5C290.5 421.5 291.0 421.1 292.6 417.3C294.1 413.4 296.7 405.8 298.8 400.3C300.8 394.8 302.9 389.5 304.9 384.1C307.0 378.7 309.1 372.9 311.1 367.9C313.2 362.9 315.2 358.9 317.3 354.0C319.3 349.1 321.4 343.7 323.5 338.6C325.5 333.4 327.8 327.6 329.6 323.1C331.4 318.6 332.7 315.4 334.3 311.6C335.8 307.7 337.4 304.0 338.9 300.0C340.4 296.0 341.9 293.1 343.5 287.8C345.0 282.5 347.0 273.6 348.4 268.1C349.8 262.5 350.9 258.6 352.1 254.5C353.3 250.4 354.6 246.2 355.8 243.4C357.0 240.6 357.9 239.2 359.5 238.0C361.1 236.7 363.4 236.8 365.7 236.0C367.9 235.2 370.2 233.9 373.1 233.0C376.0 232.1 379.2 231.3 382.9 230.6C386.6 229.8 391.2 229.2 395.3 228.6C399.4 227.9 403.5 227.0 407.6 226.6C411.7 226.2 416.3 226.0 420.0 226.1C423.7 226.2 427.4 227.7 429.8 227.4C432.3 227.0 431.4 221.9 434.8 224.1C438.1 226.4 446.6 237.4 450.0 241.1C453.4 244.7 453.3 244.7 454.9 246.0C456.6 247.3 457.8 248.5 459.9 249.0C461.9 249.4 464.8 249.0 467.3 248.5C469.7 248.0 471.8 246.6 474.7 246.0C477.6 245.4 480.4 244.8 484.6 244.8C488.7 244.8 494.4 245.9 499.4 246.0C504.3 246.1 510.1 245.8 514.2 245.5C518.3 245.2 521.4 244.7 524.0 244.0C526.7 243.4 528.6 242.0 530.2 241.5C531.9 241.1 532.8 240.3 533.9 241.1C535.0 241.8 536.0 243.5 536.9 246.0C537.8 248.5 538.5 252.2 539.3 255.9C540.2 259.6 540.9 262.9 541.8 268.2C542.8 273.6 543.9 282.2 545.0 287.9C546.2 293.7 547.3 298.0 548.7 302.8C550.2 307.5 552.0 312.2 553.7 316.3C555.3 320.4 556.7 323.9 558.6 327.4C560.4 330.9 562.7 334.5 564.8 337.3C566.8 340.1 568.7 342.6 570.9 344.2C573.2 345.9 575.9 346.7 578.3 347.2C580.8 347.7 583.3 347.5 585.7 347.2C588.2 346.8 590.7 346.0 593.1 345.2C595.6 344.4 598.1 343.8 600.5 342.2C603.0 340.7 605.7 338.3 607.9 336.1C610.2 333.8 612.3 330.7 614.1 328.7C616.0 326.6 617.0 324.7 619.1 323.7C621.1 322.8 624.2 324.2 626.5 323.0C628.7 321.8 630.6 318.3 632.6 316.3C634.7 314.4 636.5 312.6 638.8 311.4C641.1 310.2 643.9 310.2 646.2 308.9C648.5 307.7 650.1 304.4 652.4 304.0C654.6 303.6 657.3 305.6 659.8 306.5C662.2 307.3 664.7 308.7 667.2 308.9C669.6 309.1 672.4 307.9 674.6 307.7C676.7 307.5 678.3 307.8 680.0 307.7C681.7 307.6 682.6 307.0 684.9 307.3C687.1 307.5 690.8 308.5 693.5 309.2C696.2 310.0 699.1 310.1 700.9 311.7C702.8 313.3 702.8 316.6 704.6 319.1C706.5 321.6 709.6 324.8 712.0 326.5C714.5 328.2 717.0 328.4 719.4 329.5C721.9 330.5 724.4 331.7 726.8 332.7C729.3 333.6 731.8 334.3 734.2 335.1C736.7 336.0 739.2 336.3 741.6 337.6C744.1 339.0 746.8 341.2 749.0 343.3C751.3 345.3 753.2 348.4 755.2 350.0C757.3 351.5 758.7 351.7 761.4 352.4C764.1 353.1 768.4 353.7 771.2 354.1C774.1 354.6 776.4 354.9 778.7 354.9C780.9 354.9 783.2 352.9 784.8 354.1C786.5 355.4 787.1 359.1 788.5 362.3C790.0 365.5 791.8 371.1 793.5 373.4C795.1 375.7 797.0 374.8 798.4 375.9C799.8 376.9 800.9 378.1 802.1 379.6C803.3 381.0 803.9 381.0 805.8 384.5C807.6 388.0 810.9 395.6 813.2 400.5C815.5 405.3 817.9 408.7 819.6 413.6C821.3 418.4 822.1 424.3 823.3 429.6C824.6 435.0 825.8 440.9 827.0 445.7C828.3 450.4 829.5 453.3 830.7 458.0C832.0 462.7 833.2 467.9 834.4 474.0C835.7 480.2 836.7 490.5 838.1 495.0C839.6 499.5 841.4 498.9 843.1 501.2C844.7 503.4 846.1 506.6 848.0 508.6C849.8 510.6 852.1 511.4 854.2 513.0C856.2 514.7 858.9 515.9 860.3 518.5C861.8 521.0 862.0 524.6 862.8 528.3C863.6 532.0 864.2 537.0 865.3 540.7C866.3 544.4 867.7 548.3 869.0 550.5C870.2 552.8 870.6 553.5 872.7 554.2C874.7 555.0 878.8 555.3 881.3 555.0C883.8 554.7 885.4 552.4 887.5 552.5C889.5 552.7 891.8 556.2 893.7 556.0C895.5 555.7 896.7 552.1 898.6 551.0C900.4 549.9 902.9 548.8 904.8 549.3C906.6 549.8 907.8 552.8 909.7 554.2C911.5 555.7 913.6 557.0 915.9 557.9C918.1 558.9 920.8 559.5 923.3 559.9C925.7 560.3 928.4 560.9 930.7 560.4C932.9 559.9 934.6 558.2 936.8 556.7C939.1 555.3 942.0 554.0 944.2 551.8C946.5 549.5 948.2 544.8 950.4 543.1C952.7 541.5 955.4 542.3 957.8 541.9C960.3 541.5 962.8 541.1 965.2 540.7C967.7 540.3 970.2 540.3 972.6 539.4C975.1 538.6 977.6 536.6 980.0 535.7C982.5 534.9 985.4 535.3 987.4 534.5C989.5 533.7 990.8 532.3 992.4 530.8C993.9 529.3 995.6 525.4 996.8 525.4C998.0 525.4 998.7 527.8 999.8 530.8C1000.9 533.8 1002.2 539.4 1003.5 543.1C1004.7 546.8 1005.9 550.1 1007.2 553.0C1008.4 555.9 1009.6 557.5 1010.9 560.4C1012.1 563.3 1013.3 567.4 1014.6 570.3C1015.8 573.2 1017.0 573.6 1018.3 577.7C1019.6 581.8 1020.7 588.8 1022.2 595.0C1023.7 601.1 1025.5 609.6 1027.1 614.7C1028.8 619.9 1030.2 621.9 1032.1 625.8C1033.9 629.7 1037.0 634.6 1038.3 638.2C1039.5 641.7 1038.7 643.1 1039.5 647.0C1040.3 651.0 1042.0 655.7 1043.2 661.8C1044.4 668.0 1045.7 675.4 1046.9 684.0C1048.1 692.7 1049.4 704.6 1050.6 713.7C1051.8 722.7 1053.1 731.3 1054.3 738.3C1055.5 745.3 1056.8 750.3 1058.0 755.6C1059.2 761.0 1060.5 765.9 1061.7 770.4C1062.9 774.9 1064.2 778.8 1065.4 782.8C1066.6 786.7 1067.7 790.2 1069.1 793.9C1070.5 797.6 1072.4 801.1 1074.0 805.0C1075.7 808.9 1077.3 813.6 1079.0 817.3C1080.6 821.0 1082.5 823.9 1083.9 827.2C1085.3 830.5 1086.4 834.6 1087.6 837.0C1088.8 839.5 1090.1 841.0 1091.3 842.0C1092.5 843.0 1093.8 843.6 1095.0 843.2C1096.2 842.8 1097.5 841.2 1098.7 839.5C1100.0 837.9 1101.2 835.1 1102.4 833.3C1103.7 831.6 1104.9 830.2 1106.1 829.2C1107.4 828.1 1108.6 828.7 1109.8 827.2C1111.1 825.6 1112.3 822.7 1113.5 819.8C1114.8 816.9 1116.0 813.4 1117.2 809.9C1118.5 806.4 1119.7 801.5 1120.9 798.8C1122.2 796.1 1123.2 795.6 1124.6 793.9C1126.1 792.1 1127.7 788.6 1129.6 788.2C1131.4 787.8 1133.5 790.7 1135.7 791.4C1138.0 792.1 1140.7 792.6 1143.1 792.6C1145.6 792.6 1148.3 791.5 1150.5 791.4C1152.8 791.3 1154.7 792.1 1156.7 792.1C1158.8 792.1 1161.1 790.7 1162.9 791.4C1164.7 792.1 1165.9 796.9 1167.3 796.3C1168.8 795.7 1169.8 790.2 1171.5 787.7C1173.2 785.2 1175.6 783.2 1177.7 781.5C1179.7 779.8 1181.8 778.4 1183.9 777.3C1185.9 776.2 1188.0 776.4 1190.0 774.9C1192.1 773.3 1194.3 770.1 1196.2 767.9C1198.1 765.8 1199.6 763.8 1201.1 761.8C1202.7 759.7 1204.1 758.7 1205.3 755.6C1206.6 752.5 1207.5 748.2 1208.5 743.3C1209.6 738.3 1210.7 730.5 1211.7 726.0C1212.8 721.5 1213.4 718.8 1214.7 716.1C1216.0 713.4 1218.0 711.3 1219.6 710.0C1221.3 708.6 1222.9 708.5 1224.6 708.0C1226.3 707.5 1228.5 707.8 1230.0 707.0C1231.5 706.2 1232.3 703.1 1233.5 703.1C1234.7 703.0 1236.0 703.9 1237.2 706.8C1238.4 709.7 1239.5 715.2 1240.9 720.4C1242.4 725.5 1244.0 733.1 1245.8 737.6C1247.7 742.2 1249.8 744.2 1252.0 747.5C1254.3 750.8 1257.0 754.8 1259.4 757.4C1261.9 759.9 1263.9 762.2 1266.8 762.8C1269.7 763.4 1273.4 761.8 1276.7 761.1C1280.0 760.4 1283.7 759.1 1286.6 758.6C1289.4 758.1 1291.7 758.7 1294.0 757.9C1296.2 757.0 1298.1 755.1 1300.1 753.7C1302.2 752.3 1304.1 749.9 1306.3 749.5C1308.6 749.1 1310.8 750.3 1313.7 751.2C1316.6 752.1 1320.3 753.8 1323.6 754.9C1326.9 756.0 1330.6 756.7 1333.5 757.9C1336.3 759.0 1338.4 760.5 1340.9 761.8C1343.3 763.2 1345.8 764.5 1348.3 766.0C1350.7 767.5 1353.4 769.6 1355.7 770.9C1357.9 772.3 1360.0 774.8 1361.8 774.2C1363.7 773.5 1365.1 769.8 1366.8 767.2C1368.4 764.6 1370.1 760.3 1371.7 758.6C1373.4 756.9 1374.6 756.7 1376.6 756.9C1378.7 757.1 1381.6 758.1 1384.1 759.8C1386.5 761.6 1389.0 765.0 1391.5 767.2C1393.9 769.5 1396.6 771.8 1398.9 773.4C1401.1 775.0 1403.0 776.3 1405.0 776.6C1407.1 776.9 1409.1 776.2 1411.2 775.1C1413.3 774.1 1415.1 770.7 1417.4 770.2C1419.6 769.7 1423.5 771.8 1424.8 772.2" fill="none" stroke="#089981" stroke-width="1.6" stroke-linejoin="round"/>
<path d="M0.0 257.3C1.6 257.4 6.8 257.7 9.9 258.0C13.0 258.2 16.0 257.6 18.5 258.7C21.0 259.8 22.0 262.3 24.7 264.7C27.4 267.0 31.1 270.3 34.6 272.8C38.0 275.3 42.0 276.8 45.7 279.5C49.4 282.1 53.3 285.6 56.8 288.8C60.3 292.1 63.3 295.4 66.6 298.7C69.9 302.0 73.2 304.9 76.5 308.6C79.8 312.3 83.1 317.2 86.4 320.9C89.7 324.6 93.0 327.9 96.2 330.8C99.5 333.7 102.8 336.6 106.1 338.2C109.4 339.8 112.3 339.8 116.0 340.2C119.7 340.6 123.8 340.3 128.3 340.7C132.9 341.1 138.2 342.2 143.1 342.6C148.1 343.1 153.0 343.5 157.9 343.6C162.9 343.8 167.8 343.8 172.8 343.6C177.7 343.4 183.4 341.9 187.6 342.4C191.7 342.9 194.1 344.6 197.4 346.8C200.7 349.1 204.0 353.3 207.3 356.0C210.6 358.6 214.3 361.4 217.2 362.9C220.1 364.4 222.4 364.7 224.6 364.9C226.7 365.1 227.3 364.9 230.0 364.1C232.8 363.3 237.8 361.5 241.0 359.9C244.3 358.3 246.6 356.4 249.7 354.5C252.8 352.5 256.7 350.1 259.6 348.3C262.4 346.4 264.5 346.0 267.0 343.3C269.4 340.7 272.1 336.6 274.4 332.2C276.6 327.9 278.5 322.4 280.5 317.4C282.6 312.5 284.4 308.4 286.7 302.6C289.0 296.9 291.6 289.1 294.1 282.9C296.6 276.7 299.0 271.0 301.5 265.6C304.0 260.3 306.4 255.1 308.9 250.8C311.4 246.5 313.8 243.2 316.3 239.7C318.8 236.2 321.2 232.9 323.7 229.8C326.2 226.7 328.7 223.9 331.1 221.2C333.6 218.5 336.1 216.0 338.5 213.8C341.0 211.5 343.7 209.7 345.9 207.6C348.2 205.6 350.2 202.9 352.1 201.4C353.9 200.0 355.0 199.4 357.0 199.0C359.1 198.6 361.8 198.6 364.4 199.0C367.1 199.3 370.0 200.1 373.1 200.9C376.2 201.8 379.2 203.3 382.9 203.9C386.6 204.5 391.2 204.6 395.3 204.6C399.4 204.6 403.5 204.1 407.6 203.9C411.7 203.7 416.3 203.6 420.0 203.4C423.7 203.2 426.5 202.8 429.8 202.7C433.1 202.6 436.8 202.4 439.7 202.7C442.6 203.0 444.6 203.4 447.1 204.4C449.7 205.4 453.3 207.8 455.0 208.8C456.7 209.9 455.8 210.0 457.4 210.9C459.0 211.9 461.9 213.5 464.8 214.4C467.7 215.3 471.0 216.1 474.7 216.4C478.4 216.6 482.9 216.0 487.0 215.9C491.1 215.8 495.2 215.8 499.4 215.9C503.5 216.0 507.6 216.4 511.7 216.4C515.8 216.4 520.3 216.3 524.0 215.9C527.7 215.5 531.0 213.6 533.9 213.9C536.8 214.2 538.8 215.8 541.3 217.6C543.8 219.5 546.2 222.3 548.7 225.0C551.2 227.7 553.7 230.8 556.1 233.7C558.6 236.5 561.1 239.4 563.5 242.3C566.0 245.2 568.5 248.3 570.9 250.9C573.4 253.6 575.9 256.1 578.3 258.3C580.8 260.6 583.3 262.7 585.7 264.5C588.2 266.4 590.7 267.8 593.1 269.4C595.6 271.1 598.1 272.7 600.5 274.4C603.0 276.0 605.7 277.7 607.9 279.3C610.2 281.0 611.6 282.6 614.1 284.2C616.6 285.9 620.1 288.6 622.8 289.2C625.4 289.8 627.7 288.6 630.2 287.9C632.6 287.3 635.1 286.3 637.6 285.5C640.0 284.7 642.5 283.5 645.0 283.0C647.4 282.5 649.9 282.4 652.4 282.5C654.8 282.6 657.3 282.8 659.8 283.5C662.2 284.2 664.7 285.6 667.2 286.7C669.6 287.8 672.4 289.1 674.6 289.9C676.7 290.7 678.3 291.2 680.0 291.6C681.7 292.1 682.4 291.9 684.9 292.4C687.3 293.0 691.5 294.0 694.7 294.9C698.0 295.9 701.3 297.1 704.6 298.1C707.9 299.2 711.2 300.1 714.5 301.3C717.8 302.6 721.1 304.0 724.4 305.5C727.6 307.1 730.9 308.9 734.2 310.5C737.5 312.0 740.8 313.1 744.1 314.7C747.4 316.2 750.7 317.8 754.0 319.6C757.3 321.4 760.6 323.6 763.8 325.3C767.1 326.9 770.4 327.9 773.7 329.5C777.0 331.0 780.3 332.6 783.6 334.4C786.9 336.2 790.6 338.3 793.5 340.1C796.3 341.8 798.4 343.2 800.9 345.0C803.3 346.8 806.0 348.8 808.3 350.7C810.5 352.5 812.4 354.0 814.4 356.1C816.5 358.3 818.6 360.9 820.6 363.5C822.7 366.2 824.7 369.1 826.8 372.2C828.8 375.2 830.9 378.9 832.9 382.0C835.0 385.2 837.1 388.2 839.1 391.2C841.2 394.2 843.2 397.0 845.3 400.0C847.3 403.1 849.4 406.0 851.5 409.2C853.5 412.3 855.6 415.1 857.6 419.1C859.7 423.0 861.7 428.3 863.8 432.6C865.9 436.9 867.9 441.5 870.0 445.0C872.0 448.5 874.1 450.9 876.1 453.6C878.2 456.3 880.5 458.3 882.3 461.0C884.2 463.7 885.6 467.0 887.2 469.6C888.9 472.3 890.3 474.5 892.2 477.0C894.0 479.6 896.5 483.0 898.3 484.9C900.2 486.9 902.0 487.4 903.3 488.9C904.6 490.4 904.3 491.9 906.0 493.8C907.7 495.6 910.9 498.3 913.4 500.0C915.9 501.6 918.3 502.6 920.8 503.7C923.3 504.7 925.7 505.3 928.2 506.1C930.7 506.9 932.9 508.0 935.6 508.6C938.3 509.2 941.8 510.0 944.2 509.8C946.7 509.6 948.2 508.3 950.4 507.4C952.7 506.4 955.4 504.4 957.8 504.1C960.3 503.9 962.8 505.5 965.2 505.6C967.7 505.8 970.2 505.4 972.6 504.9C975.1 504.4 977.6 503.2 980.0 502.4C982.5 501.6 985.0 500.9 987.4 500.0C989.9 499.0 992.8 497.3 994.8 497.0C996.9 496.7 997.7 497.4 999.8 498.2C1001.8 499.0 1004.9 500.4 1007.2 501.7C1009.4 502.9 1011.2 504.1 1013.3 505.6C1015.5 507.2 1018.1 508.7 1020.0 511.1C1021.9 513.4 1022.7 516.6 1024.7 519.7C1026.7 522.8 1030.0 526.9 1032.1 529.6C1034.1 532.2 1035.2 532.7 1037.0 535.7C1038.9 538.8 1041.1 543.6 1043.2 548.1C1045.2 552.6 1047.3 557.5 1049.4 562.9C1051.4 568.2 1053.5 574.4 1055.5 580.2C1057.6 585.9 1059.6 591.3 1061.7 597.4C1063.8 603.6 1065.8 610.6 1067.9 617.2C1069.9 623.8 1072.2 631.3 1074.0 636.9C1075.9 642.5 1077.1 645.7 1079.0 650.7C1080.8 655.7 1083.1 661.8 1085.1 666.8C1087.2 671.7 1089.3 675.8 1091.3 680.3C1093.4 684.9 1095.4 689.6 1097.5 693.9C1099.5 698.2 1101.6 702.5 1103.7 706.2C1105.7 710.0 1107.8 713.0 1109.8 716.1C1111.9 719.2 1113.9 722.1 1116.0 724.8C1118.0 727.4 1120.1 729.9 1122.2 732.2C1124.2 734.4 1126.3 737.1 1128.3 738.3C1130.4 739.6 1132.4 740.0 1134.5 739.6C1136.6 739.2 1138.4 737.2 1140.7 735.9C1142.9 734.5 1145.6 733.0 1148.1 731.4C1150.5 729.9 1153.4 728.0 1155.5 726.5C1157.5 725.0 1158.8 724.8 1160.4 722.3C1162.1 719.7 1163.7 714.7 1165.4 711.2C1167.0 707.7 1168.4 705.0 1170.3 701.3C1172.1 697.6 1174.4 692.7 1176.5 689.0C1178.5 685.3 1180.6 682.1 1182.6 679.1C1184.7 676.1 1186.7 673.3 1188.8 671.2C1190.9 669.1 1192.9 668.1 1195.0 666.8C1197.0 665.4 1199.1 664.9 1201.1 663.1C1203.2 661.2 1205.2 658.3 1207.3 655.7C1209.4 653.0 1211.4 649.4 1213.5 647.0C1215.5 644.7 1217.8 642.7 1219.6 641.6C1221.5 640.4 1222.9 640.4 1224.6 640.1C1226.3 639.9 1228.5 640.3 1230.0 640.1C1231.5 639.9 1231.9 638.7 1233.5 638.9C1235.1 639.1 1237.4 639.5 1239.7 641.4C1241.9 643.2 1244.6 646.9 1247.1 650.0C1249.6 653.1 1252.0 656.6 1254.5 659.9C1257.0 663.2 1259.4 666.9 1261.9 669.8C1264.4 672.6 1266.8 674.9 1269.3 677.2C1271.8 679.4 1274.2 682.1 1276.7 683.3C1279.2 684.6 1281.8 683.4 1284.1 684.6C1286.4 685.7 1288.2 688.2 1290.3 690.2C1292.3 692.3 1294.2 694.8 1296.4 696.9C1298.7 699.0 1301.2 701.2 1303.8 703.1C1306.5 704.9 1309.6 706.8 1312.5 708.0C1315.4 709.2 1318.0 709.9 1321.1 710.5C1324.2 711.1 1327.7 711.0 1331.0 711.7C1334.3 712.5 1337.6 713.7 1340.9 714.9C1344.2 716.2 1347.7 717.6 1350.7 719.1C1353.8 720.6 1356.7 722.5 1359.4 724.1C1362.0 725.6 1364.5 727.2 1366.8 728.2C1369.0 729.3 1370.9 730.1 1372.9 730.2C1375.0 730.3 1376.6 729.7 1379.1 729.0C1381.6 728.2 1384.7 727.3 1387.8 725.8C1390.8 724.3 1394.3 722.2 1397.6 719.9C1400.9 717.5 1404.4 714.5 1407.5 711.7C1410.6 708.9 1413.7 705.5 1416.1 703.1C1418.5 700.6 1420.3 698.6 1421.8 696.9C1423.3 695.2 1424.7 693.4 1425.3 692.7" fill="none" stroke="#2962ff" stroke-width="1.7" stroke-linejoin="round"/>
<path d="M20.1 259.2V280.2M37.0 312.3V349.3M41.2 311.1V330.8M45.4 303.7V323.4M58.1 323.4V340.7M62.3 320.9V341.9M70.7 320.9V340.7M91.8 353.0V367.8M96.1 346.8V367.8M100.3 330.8V348.1M117.1 338.2V359.9M121.4 318.0V345.6M125.6 302.4V318.5M134.0 318.0V337.0M142.5 327.1V354.2M163.6 345.1V356.7M172.0 353.0V382.6M176.2 339.4V372.8M180.4 320.9V350.5M210.0 382.6V420.9M214.2 365.8V391.3M218.4 376.5V396.2M222.6 350.0V383.1M226.8 344.8V360.2M231.1 310.0V348.3M235.3 304.6V318.5M243.7 305.1V323.6M247.9 281.6V317.4M252.2 290.3V322.4M264.8 285.4V307.6M269.0 273.0V298.9M273.2 248.3V277.9M277.5 234.8V260.7M281.7 203.9V243.4M285.9 150.8V206.4M294.3 155.8V189.1M302.8 147.1V196.5M307.0 163.2V185.4M319.7 195.3V221.2M328.1 189.1V224.9M332.3 194.0V210.1M336.5 197.7V215.0M353.4 208.8V242.2M357.6 182.9V218.7M366.1 202.7V220.0M370.3 186.6V215.0M382.9 184.2V213.3M391.4 179.2V194.0M399.8 185.4V210.1M408.3 198.5V212.5M416.7 195.3V206.4M425.1 203.9V214.3M437.8 211.3V224.9M458.9 230.0V253.4M467.3 211.4V237.4M475.8 202.8V213.9M480.0 195.4V210.2M484.2 194.7V204.0M488.4 190.5V200.3M501.1 202.8V213.4M522.2 210.9V220.1M526.4 206.0V215.9M551.7 304.0V344.2M555.9 293.4V317.1M560.1 286.0V297.8M568.6 296.6V312.6M572.8 289.9V307.7M577.0 278.1V294.1M581.2 264.5V281.0M589.7 256.4V274.4M615.0 283.5V291.6M619.2 282.5V294.9M631.9 290.4V302.3M636.1 286.7V299.1M640.3 278.1V290.4M644.5 274.4V286.7M657.2 297.8V306.5M661.4 296.6V302.8M669.8 295.8V302.8M674.0 295.8V302.3M678.3 294.9V302.8M686.7 300.6V307.3M699.4 298.1V304.8M712.0 320.3V341.3M716.2 317.9V327.7M737.3 323.5V334.4M758.4 337.6V354.9M766.9 340.1V351.2M775.3 336.9V350.0M800.6 368.0V387.0M813.3 353.7V404.2M821.7 412.3V434.6M838.6 465.4V503.7M851.2 444.4V498.7M872.3 510.6V564.9M876.6 476.0V517.2M880.8 466.6V495.0M897.6 512.3V537.0M901.9 494.3V513.5M914.5 523.9V545.1M918.7 504.9V539.4M927.2 508.6V526.4M931.4 496.7V519.7M935.6 474.0V503.7M939.8 475.3V492.5M956.7 473.5V498.7M969.4 491.3V508.6M973.6 476.0V498.2M986.2 486.9V508.1M990.5 476.5V496.2M1007.3 559.2V615.2M1015.8 556.0V577.7M1028.4 599.9V632.0M1036.9 583.1V607.3M1058.0 729.7V755.6M1062.2 716.1V748.2M1070.6 714.9V744.5M1083.3 769.2V795.6M1091.7 754.4V793.1M1095.9 733.4V758.1M1100.2 719.8V749.4M1104.4 700.1V723.5M1112.8 687.7V730.9M1121.2 710.0V754.4M1129.7 739.6V771.6M1133.9 692.7V740.8M1138.1 670.5V697.6M1146.6 678.6V705.0M1155.0 670.5V714.9M1163.4 603.8V676.1M1167.7 527.1V625.8M1176.1 604.8V623.6M1188.7 588.8V624.8M1205.6 615.4V672.2M1218.3 624.3V664.8M1230.9 662.4V711.7M1235.2 673.5V703.1M1252.0 719.1V750.0M1256.3 715.4V742.6M1260.5 692.7V724.1M1268.9 687.8V721.6M1273.1 675.9V703.1M1281.6 656.2V703.1M1285.8 651.7V671.0M1302.7 703.1V736.4M1306.9 699.4V714.2M1315.3 692.7V734.7M1336.4 734.7V751.9M1344.8 717.9V742.6M1357.5 742.1V757.4M1365.9 729.0V751.2M1370.2 700.6V735.7M1374.4 702.6V722.8M1378.6 690.2V748.0M1382.8 689.5V709.2M1387.0 687.0V710.0M1391.3 664.8V701.8M1395.5 659.9V680.9M1403.9 654.2V675.4M1416.6 659.9V678.4M1420.8 621.6V672.2M1425.0 608.1V631.0" stroke="#089981" stroke-width="1.9" fill="none"/>
<path d="M-1.0 227.1V247.4M3.2 238.5V280.5M7.5 242.0V276.5M11.7 255.8V285.4M15.9 262.9V282.7M24.3 269.1V334.5M28.6 313.5V349.3M32.8 320.9V350.5M49.6 314.8V343.1M53.9 322.2V343.1M66.5 323.4V343.1M75.0 325.9V345.6M79.2 333.3V357.9M83.4 337.0V364.1M87.6 351.8V370.3M104.5 337.0V354.2M108.7 330.3V350.5M112.9 340.7V355.5M129.8 314.8V338.2M138.2 325.9V345.6M146.7 322.2V350.5M150.9 337.0V353.0M155.1 338.2V353.3M159.3 348.1V367.8M167.8 346.8V417.2M184.7 319.7V353.0M188.9 324.6V375.2M193.1 364.1V383.9M197.3 376.5V412.2M201.5 392.5V430.8M205.7 403.6V428.3M239.5 306.3V328.5M256.4 281.6V300.2M260.6 295.2V321.1M290.1 144.7V180.5M298.6 163.9V186.6M311.2 174.8V202.7M315.4 196.0V218.7M323.9 195.3V226.6M340.8 194.0V208.8M345.0 190.3V218.7M349.2 210.1V234.8M361.8 196.5V220.7M374.5 183.7V200.2M378.7 191.6V215.0M387.2 182.9V195.3M395.6 183.7V210.1M404.0 192.1V221.7M412.5 198.5V212.5M420.9 199.5V211.8M429.3 203.9V222.4M433.6 212.5V231.1M442.0 210.1V228.6M446.2 218.7V245.9M450.4 227.4V239.7M454.7 228.7V260.1M463.1 226.2V237.4M471.5 210.2V221.3M492.6 191.2V197.9M496.9 193.7V212.7M505.3 200.3V213.9M509.5 205.3V213.9M513.7 210.2V220.1M517.9 215.1V223.8M530.6 206.5V216.9M534.8 210.2V230.7M539.0 227.5V283.5M543.3 264.5V313.9M547.5 301.5V332.9M564.4 290.4V312.6M585.4 265.7V281.0M593.9 254.1V271.9M598.1 269.4V281.8M602.3 274.4V293.4M606.5 276.1V302.8M610.8 280.5V293.4M623.4 283.0V295.4M627.6 291.6V302.3M648.7 275.6V290.4M652.9 283.0V293.4M665.6 292.9V304.7M682.5 293.9V304.8M690.9 300.6V306.3M695.1 300.6V307.3M703.6 299.4V330.2M707.8 312.9V351.2M720.5 316.1V328.5M724.7 314.2V329.0M728.9 317.9V329.5M733.1 323.5V338.4M741.5 326.0V329.5M745.8 321.1V335.1M750.0 332.7V341.8M754.2 337.6V353.2M762.6 338.4V351.7M771.1 341.3V347.5M779.5 339.3V350.0M783.7 341.8V353.2M788.0 348.7V370.9M792.2 359.8V376.4M796.4 379.6V400.5M804.8 359.1V378.3M809.0 369.0V412.9M817.5 374.6V437.6M825.9 422.2V457.3M830.1 437.0V458.0M834.4 449.4V493.3M842.8 466.6V482.7M847.0 478.5V508.6M855.5 433.3V466.6M859.7 454.3V481.4M863.9 469.1V541.9M868.1 525.9V555.5M885.0 477.0V509.8M889.2 488.8V528.3M893.4 522.2V539.4M906.1 500.0V525.9M910.3 503.7V551.8M923.0 513.5V529.6M944.1 474.0V498.7M948.3 485.1V496.2M952.5 491.8V501.2M960.9 474.0V511.1M965.1 496.2V509.1M977.8 479.5V491.8M982.0 490.8V502.4M994.7 473.5V491.8M998.9 488.8V553.0M1003.1 525.9V587.1M1011.6 548.1V577.7M1020.0 560.4V586.3M1024.2 566.6V628.3M1032.7 588.8V614.7M1041.1 600.1V658.1M1045.3 645.8V684.0M1049.5 668.0V737.1M1053.7 706.2V751.2M1066.4 732.2V767.9M1074.8 726.5V769.2M1079.1 734.6V782.3M1087.5 756.1V790.2M1108.6 703.8V743.3M1117.0 689.0V719.8M1125.5 715.6V772.9M1142.3 660.6V698.8M1150.8 691.4V716.6M1159.2 668.7V681.6M1171.9 575.2V635.9M1180.3 581.4V617.4M1184.5 608.5V631.0M1193.0 596.2V628.5M1197.2 607.5V660.6M1201.4 633.4V667.3M1209.8 594.0V631.0M1214.1 614.4V669.2M1222.5 621.1V656.9M1226.7 641.9V692.7M1239.4 683.3V719.1M1243.6 703.1V736.4M1247.8 715.4V757.9M1264.7 703.1V734.7M1277.3 689.5V712.9M1290.0 659.9V690.7M1294.2 682.1V724.1M1298.4 719.1V743.8M1311.1 697.6V730.2M1319.5 705.5V725.3M1323.8 717.9V750.0M1328.0 731.5V746.3M1332.2 736.4V748.7M1340.6 719.9V742.1M1349.1 732.7V766.7M1353.3 742.6V763.5M1361.7 740.1V752.4M1399.7 648.8V669.0M1408.1 653.7V671.0M1412.4 655.0V673.0" stroke="#f23645" stroke-width="1.9" fill="none"/>
<path d="M18.01 269.1h4.2V271.6h-4.2zM34.89 328.3h4.2V334.5h-4.2zM39.11 320.9h4.2V329.6h-4.2zM43.33 317.2h4.2V322.2h-4.2zM55.98 330.8h4.2V333.3h-4.2zM60.20 330.3h4.2V333.3h-4.2zM68.64 334.5h4.2V339.4h-4.2zM89.74 359.9h4.2V364.9h-4.2zM93.95 347.6h4.2V360.4h-4.2zM98.17 342.6h4.2V348.1h-4.2zM115.05 340.2h4.2V355.0h-4.2zM119.27 318.5h4.2V340.7h-4.2zM123.49 313.5h4.2V318.5h-4.2zM131.92 330.3h4.2V335.2h-4.2zM140.36 330.8h4.2V343.1h-4.2zM161.46 353.0h4.2V356.0h-4.2zM169.89 357.9h4.2V374.0h-4.2zM174.11 344.4h4.2V359.2h-4.2zM178.33 321.4h4.2V344.4h-4.2zM207.87 389.5h4.2V413.5h-4.2zM212.08 382.1h4.2V390.0h-4.2zM216.30 377.7h4.2V382.6h-4.2zM220.52 350.5h4.2V377.7h-4.2zM224.74 348.6h4.2V352.5h-4.2zM228.96 317.4h4.2V347.0h-4.2zM233.18 314.7h4.2V317.0h-4.2zM241.62 315.0h4.2V317.4h-4.2zM245.84 307.6h4.2V316.2h-4.2zM250.05 295.2h4.2V307.6h-4.2zM262.71 295.7h4.2V306.3h-4.2zM266.93 274.2h4.2V297.7h-4.2zM271.15 253.3h4.2V276.7h-4.2zM275.37 236.0h4.2V254.5h-4.2zM279.59 205.1h4.2V237.2h-4.2zM283.81 159.5h4.2V206.4h-4.2zM292.24 168.1h4.2V174.3h-4.2zM300.68 179.2h4.2V184.7h-4.2zM304.90 179.2h4.2V181.2h-4.2zM317.56 206.4h4.2V208.8h-4.2zM325.99 206.4h4.2V222.4h-4.2zM330.21 203.9h4.2V207.6h-4.2zM334.43 200.2h4.2V205.1h-4.2zM351.31 210.1h4.2V234.8h-4.2zM355.53 197.0h4.2V210.8h-4.2zM363.96 211.3h4.2V218.7h-4.2zM368.18 188.6h4.2V212.5h-4.2zM380.84 185.4h4.2V211.8h-4.2zM389.28 185.4h4.2V191.6h-4.2zM397.72 192.8h4.2V195.3h-4.2zM406.15 199.5h4.2V210.8h-4.2zM414.59 200.2h4.2V205.1h-4.2zM423.03 205.1h4.2V212.5h-4.2zM435.69 212.5h4.2V223.7h-4.2zM456.78 233.7h4.2V252.2h-4.2zM465.22 212.7h4.2V234.9h-4.2zM473.66 206.5h4.2V212.7h-4.2zM477.87 200.3h4.2V207.7h-4.2zM482.09 196.6h4.2V201.6h-4.2zM486.31 191.7h4.2V197.9h-4.2zM498.97 206.5h4.2V209.0h-4.2zM520.06 212.7h4.2V218.8h-4.2zM524.28 207.0h4.2V213.9h-4.2zM549.60 313.9h4.2V331.9h-4.2zM553.81 295.4h4.2V315.6h-4.2zM558.03 289.9h4.2V294.9h-4.2zM566.47 305.2h4.2V312.1h-4.2zM570.69 290.9h4.2V306.5h-4.2zM574.91 279.3h4.2V292.9h-4.2zM579.13 267.0h4.2V280.0h-4.2zM587.57 257.1h4.2V273.1h-4.2zM612.88 285.5h4.2V289.9h-4.2zM617.10 283.5h4.2V289.9h-4.2zM629.75 296.6h4.2V301.5h-4.2zM633.97 287.9h4.2V297.8h-4.2zM638.19 280.0h4.2V289.2h-4.2zM642.41 276.8h4.2V281.8h-4.2zM655.07 299.1h4.2V304.0h-4.2zM659.29 298.3h4.2V301.5h-4.2zM667.73 299.1h4.2V300.8h-4.2zM671.94 298.3h4.2V300.3h-4.2zM676.16 295.8h4.2V300.8h-4.2zM684.60 301.8h4.2V304.8h-4.2zM697.26 301.3h4.2V303.1h-4.2zM709.91 321.6h4.2V331.4h-4.2zM714.13 318.6h4.2V324.0h-4.2zM735.23 327.7h4.2V333.4h-4.2zM756.32 339.3h4.2V348.7h-4.2zM764.76 342.5h4.2V346.2h-4.2zM773.20 339.3h4.2V345.0h-4.2zM798.51 369.7h4.2V385.7h-4.2zM811.17 390.7h4.2V403.0h-4.2zM819.61 429.1h4.2V434.1h-4.2zM836.48 466.6h4.2V491.3h-4.2zM849.14 448.1h4.2V497.5h-4.2zM870.23 511.5h4.2V549.3h-4.2zM874.45 477.7h4.2V512.3h-4.2zM878.67 477.0h4.2V479.0h-4.2zM895.55 513.5h4.2V530.3h-4.2zM899.76 500.7h4.2V512.3h-4.2zM912.42 537.0h4.2V538.9h-4.2zM916.64 516.0h4.2V537.0h-4.2zM925.08 509.8h4.2V519.7h-4.2zM929.30 501.2h4.2V511.1h-4.2zM933.52 484.4h4.2V502.4h-4.2zM937.73 483.9h4.2V485.9h-4.2zM954.61 478.5h4.2V496.7h-4.2zM967.27 496.2h4.2V507.4h-4.2zM971.49 480.2h4.2V496.7h-4.2zM984.14 490.8h4.2V500.7h-4.2zM988.36 479.0h4.2V491.8h-4.2zM1005.24 560.4h4.2V585.1h-4.2zM1013.67 561.6h4.2V565.4h-4.2zM1026.33 603.6h4.2V622.1h-4.2zM1034.77 601.1h4.2V606.1h-4.2zM1055.86 738.3h4.2V747.0h-4.2zM1060.08 740.3h4.2V742.8h-4.2zM1068.52 730.9h4.2V743.3h-4.2zM1081.18 775.8h4.2V780.3h-4.2zM1089.62 756.8h4.2V788.9h-4.2zM1093.83 740.3h4.2V757.6h-4.2zM1098.05 721.5h4.2V740.8h-4.2zM1102.27 706.7h4.2V722.3h-4.2zM1110.71 695.1h4.2V727.2h-4.2zM1119.15 716.1h4.2V718.6h-4.2zM1127.59 740.3h4.2V765.0h-4.2zM1131.80 695.9h4.2V740.3h-4.2zM1136.02 685.3h4.2V696.4h-4.2zM1144.46 692.7h4.2V698.4h-4.2zM1152.90 675.4h4.2V708.7h-4.2zM1161.34 622.3h4.2V675.4h-4.2zM1165.56 582.1h4.2V624.3h-4.2zM1173.99 608.5h4.2V622.3h-4.2zM1186.65 604.3h4.2V618.6h-4.2zM1203.53 617.4h4.2V665.5h-4.2zM1216.18 626.0h4.2V633.4h-4.2zM1228.84 684.6h4.2V692.0h-4.2zM1233.06 684.6h4.2V693.2h-4.2zM1249.93 730.7h4.2V748.7h-4.2zM1254.15 716.6h4.2V731.5h-4.2zM1258.37 708.0h4.2V717.9h-4.2zM1266.81 701.8h4.2V720.4h-4.2zM1271.03 690.7h4.2V702.6h-4.2zM1279.47 659.9h4.2V693.2h-4.2zM1283.68 659.9h4.2V661.6h-4.2zM1300.56 711.7h4.2V734.7h-4.2zM1304.78 707.5h4.2V712.9h-4.2zM1313.22 712.9h4.2V726.5h-4.2zM1334.31 735.7h4.2V748.0h-4.2zM1342.75 733.2h4.2V741.3h-4.2zM1355.41 743.1h4.2V745.0h-4.2zM1363.84 733.2h4.2V750.0h-4.2zM1368.06 711.7h4.2V734.7h-4.2zM1372.28 706.8h4.2V712.9h-4.2zM1376.50 700.6h4.2V709.2h-4.2zM1380.72 694.4h4.2V703.1h-4.2zM1384.94 692.0h4.2V696.9h-4.2zM1389.16 675.4h4.2V692.7h-4.2zM1393.38 662.4h4.2V677.2h-4.2zM1401.81 655.7h4.2V667.3h-4.2zM1414.47 669.8h4.2V677.2h-4.2zM1418.69 629.0h4.2V671.0h-4.2zM1422.91 613.7h4.2V630.3h-4.2z" fill="#089981"/>
<path d="M-3.08 228.4h4.2V246.9h-4.2zM1.14 245.9h4.2V255.8h-4.2zM5.36 254.3h4.2V271.6h-4.2zM9.58 267.9h4.2V271.8h-4.2zM13.80 269.1h4.2V274.0h-4.2zM22.23 269.1h4.2V314.8h-4.2zM26.45 313.5h4.2V335.7h-4.2zM30.67 334.5h4.2V337.0h-4.2zM47.55 316.0h4.2V323.4h-4.2zM51.77 323.4h4.2V334.5h-4.2zM64.42 328.3h4.2V338.2h-4.2zM72.86 327.1h4.2V334.5h-4.2zM77.08 334.5h4.2V351.8h-4.2zM81.30 350.5h4.2V362.9h-4.2zM85.52 361.6h4.2V364.1h-4.2zM102.39 341.9h4.2V348.1h-4.2zM106.61 341.9h4.2V348.1h-4.2zM110.83 341.9h4.2V354.2h-4.2zM127.71 315.5h4.2V335.2h-4.2zM136.14 328.3h4.2V344.4h-4.2zM144.58 330.8h4.2V338.2h-4.2zM148.80 338.2h4.2V349.3h-4.2zM153.02 349.6h4.2V352.5h-4.2zM157.24 350.5h4.2V354.2h-4.2zM165.68 353.0h4.2V374.0h-4.2zM182.55 320.4h4.2V341.9h-4.2zM186.77 341.2h4.2V369.1h-4.2zM190.99 367.8h4.2V378.9h-4.2zM195.21 377.7h4.2V399.9h-4.2zM199.43 399.9h4.2V409.8h-4.2zM203.65 409.3h4.2V413.7h-4.2zM237.40 315.0h4.2V317.4h-4.2zM254.27 295.7h4.2V298.2h-4.2zM258.49 296.5h4.2V306.3h-4.2zM288.02 158.3h4.2V174.3h-4.2zM296.46 168.1h4.2V185.4h-4.2zM309.12 179.2h4.2V201.4h-4.2zM313.34 199.0h4.2V208.8h-4.2zM321.78 207.6h4.2V222.4h-4.2zM338.65 200.2h4.2V205.1h-4.2zM342.87 207.6h4.2V216.7h-4.2zM347.09 216.2h4.2V234.8h-4.2zM359.75 197.7h4.2V218.7h-4.2zM372.40 187.9h4.2V194.0h-4.2zM376.62 192.8h4.2V211.3h-4.2zM385.06 184.7h4.2V189.6h-4.2zM393.50 184.7h4.2V194.0h-4.2zM401.93 192.8h4.2V211.3h-4.2zM410.37 199.0h4.2V205.1h-4.2zM418.81 200.2h4.2V211.3h-4.2zM427.25 205.1h4.2V221.2h-4.2zM431.47 218.7h4.2V222.4h-4.2zM439.90 211.8h4.2V222.4h-4.2zM444.12 221.2h4.2V233.5h-4.2zM448.34 232.3h4.2V236.0h-4.2zM452.56 233.7h4.2V253.4h-4.2zM461.00 232.4h4.2V234.9h-4.2zM469.44 212.7h4.2V215.1h-4.2zM490.53 192.2h4.2V196.1h-4.2zM494.75 194.7h4.2V208.5h-4.2zM503.19 206.0h4.2V210.2h-4.2zM507.41 207.7h4.2V212.7h-4.2zM511.63 212.7h4.2V218.4h-4.2zM515.84 216.9h4.2V219.3h-4.2zM528.50 207.7h4.2V213.9h-4.2zM532.72 213.4h4.2V228.7h-4.2zM536.94 228.2h4.2V274.4h-4.2zM541.16 270.7h4.2V307.2h-4.2zM545.38 305.2h4.2V331.9h-4.2zM562.25 291.6h4.2V312.1h-4.2zM583.35 267.0h4.2V275.6h-4.2zM591.78 255.9h4.2V270.7h-4.2zM596.00 270.7h4.2V275.6h-4.2zM600.22 275.6h4.2V278.1h-4.2zM604.44 277.6h4.2V286.0h-4.2zM608.66 285.5h4.2V292.4h-4.2zM621.32 283.5h4.2V294.1h-4.2zM625.54 292.9h4.2V301.5h-4.2zM646.63 276.8h4.2V286.7h-4.2zM650.85 286.0h4.2V291.6h-4.2zM663.51 298.3h4.2V301.5h-4.2zM680.38 295.7h4.2V303.1h-4.2zM688.82 301.3h4.2V302.6h-4.2zM693.04 301.8h4.2V303.1h-4.2zM701.48 301.3h4.2V321.6h-4.2zM705.70 313.7h4.2V331.4h-4.2zM718.35 317.9h4.2V324.0h-4.2zM722.57 319.1h4.2V325.3h-4.2zM726.79 324.0h4.2V325.3h-4.2zM731.01 324.0h4.2V333.9h-4.2zM739.45 327.0h4.2V328.5h-4.2zM743.67 328.5h4.2V333.9h-4.2zM747.88 333.4h4.2V338.8h-4.2zM752.10 338.4h4.2V348.7h-4.2zM760.54 339.3h4.2V346.2h-4.2zM768.98 343.3h4.2V345.0h-4.2zM777.42 342.5h4.2V345.0h-4.2zM781.64 345.0h4.2V351.2h-4.2zM785.85 350.0h4.2V366.0h-4.2zM790.07 364.8h4.2V375.9h-4.2zM794.29 380.3h4.2V385.7h-4.2zM802.73 369.0h4.2V370.9h-4.2zM806.95 373.4h4.2V403.0h-4.2zM815.39 390.7h4.2V433.9h-4.2zM823.82 429.1h4.2V450.6h-4.2zM828.04 449.4h4.2V452.3h-4.2zM832.26 450.6h4.2V492.5h-4.2zM840.70 467.9h4.2V481.4h-4.2zM844.92 480.2h4.2V497.5h-4.2zM853.36 451.8h4.2V462.9h-4.2zM857.58 461.7h4.2V470.3h-4.2zM861.79 470.3h4.2V539.4h-4.2zM866.01 538.2h4.2V549.3h-4.2zM882.89 478.5h4.2V490.1h-4.2zM887.11 490.1h4.2V523.4h-4.2zM891.33 522.9h4.2V530.8h-4.2zM903.98 501.2h4.2V504.9h-4.2zM908.20 504.9h4.2V541.2h-4.2zM920.86 519.0h4.2V520.9h-4.2zM941.95 485.1h4.2V491.3h-4.2zM946.17 490.8h4.2V494.3h-4.2zM950.39 493.3h4.2V496.7h-4.2zM958.83 477.7h4.2V503.7h-4.2zM963.05 500.7h4.2V508.1h-4.2zM975.70 480.2h4.2V486.4h-4.2zM979.92 495.0h4.2V501.2h-4.2zM992.58 478.5h4.2V490.8h-4.2zM996.80 490.1h4.2V527.8h-4.2zM1001.02 527.1h4.2V584.6h-4.2zM1009.46 560.4h4.2V564.9h-4.2zM1017.89 561.6h4.2V569.8h-4.2zM1022.11 567.8h4.2V623.3h-4.2zM1030.55 604.8h4.2V606.8h-4.2zM1038.99 601.1h4.2V648.3h-4.2zM1043.21 647.0h4.2V672.9h-4.2zM1047.43 671.7h4.2V729.7h-4.2zM1051.64 729.7h4.2V747.0h-4.2zM1064.30 739.6h4.2V744.5h-4.2zM1072.74 729.7h4.2V747.0h-4.2zM1076.96 746.2h4.2V781.5h-4.2zM1085.40 777.3h4.2V788.9h-4.2zM1106.49 706.7h4.2V727.2h-4.2zM1114.93 693.9h4.2V718.6h-4.2zM1123.37 716.1h4.2V766.0h-4.2zM1140.24 685.3h4.2V697.6h-4.2zM1148.68 692.7h4.2V713.7h-4.2zM1157.12 674.7h4.2V678.6h-4.2zM1169.77 582.1h4.2V622.3h-4.2zM1178.21 608.5h4.2V612.5h-4.2zM1182.43 609.3h4.2V618.6h-4.2zM1190.87 603.6h4.2V623.6h-4.2zM1195.09 623.6h4.2V650.7h-4.2zM1199.31 650.7h4.2V665.5h-4.2zM1207.74 618.6h4.2V622.3h-4.2zM1211.96 621.8h4.2V634.7h-4.2zM1220.40 626.8h4.2V643.3h-4.2zM1224.62 643.4h4.2V692.0h-4.2zM1237.28 684.6h4.2V708.0h-4.2zM1241.50 706.8h4.2V729.0h-4.2zM1245.71 727.8h4.2V748.7h-4.2zM1262.59 708.5h4.2V720.8h-4.2zM1275.25 690.7h4.2V694.4h-4.2zM1287.90 660.6h4.2V687.0h-4.2zM1292.12 683.3h4.2V720.8h-4.2zM1296.34 719.9h4.2V734.7h-4.2zM1309.00 708.0h4.2V725.8h-4.2zM1317.44 712.9h4.2V724.1h-4.2zM1321.65 722.8h4.2V739.6h-4.2zM1325.87 737.6h4.2V744.5h-4.2zM1330.09 737.1h4.2V748.0h-4.2zM1338.53 735.2h4.2V738.1h-4.2zM1346.97 733.9h4.2V742.6h-4.2zM1351.19 743.8h4.2V745.5h-4.2zM1359.62 745.0h4.2V751.2h-4.2zM1397.59 661.1h4.2V667.3h-4.2zM1406.03 655.0h4.2V661.6h-4.2zM1410.25 658.7h4.2V671.5h-4.2z" fill="#f23645"/>
</svg>
<svg x="0" y="852" width="1432" height="120" viewBox="0 852 1432 120">
<path d="M-2.5 885.0h3V887.5h-3zM103.0 887.0h3V887.5h-3zM107.2 886.7h3V887.5h-3zM111.4 885.8h3V887.5h-3zM115.6 885.1h3V887.5h-3zM119.9 884.6h3V887.5h-3zM124.1 884.1h3V887.5h-3zM128.3 883.7h3V887.5h-3zM174.7 887.0h3V887.5h-3zM178.9 886.2h3V887.5h-3z" fill="#26a69a" opacity="0.45"/>
<path d="M221.1 887.0h3V887.5h-3zM225.3 885.9h3V887.5h-3zM229.6 883.9h3V887.5h-3zM233.8 882.4h3V887.5h-3zM238.0 882.0h3V887.5h-3zM246.4 882.1h3V887.5h-3zM250.7 882.0h3V887.5h-3zM267.5 882.6h3V887.5h-3zM271.7 881.6h3V887.5h-3zM276.0 880.2h3V887.5h-3zM280.2 878.9h3V887.5h-3zM284.4 877.8h3V887.5h-3zM288.6 877.5h3V887.5h-3zM478.5 887.0h3V887.5h-3zM482.7 886.8h3V887.5h-3zM486.9 886.6h3V887.5h-3zM491.1 886.5h3V887.5h-3zM583.9 886.6h3V887.5h-3zM588.2 885.8h3V887.5h-3zM592.4 885.5h3V887.5h-3zM621.9 887.0h3V887.5h-3zM626.1 887.0h3V887.5h-3zM630.4 887.0h3V887.5h-3zM634.6 887.0h3V887.5h-3zM638.8 886.9h3V887.5h-3zM643.0 886.5h3V887.5h-3zM659.9 887.0h3V887.5h-3zM664.1 887.0h3V887.5h-3zM668.3 887.0h3V887.5h-3zM672.5 887.0h3V887.5h-3zM676.8 887.0h3V887.5h-3zM681.0 887.0h3V887.5h-3zM685.2 887.0h3V887.5h-3zM689.4 887.0h3V887.5h-3zM693.6 887.0h3V887.5h-3zM697.9 887.0h3V887.5h-3zM773.8 887.0h3V887.5h-3zM778.0 887.0h3V887.5h-3zM879.3 887.0h3V887.5h-3zM883.5 887.0h3V887.5h-3zM887.7 887.0h3V887.5h-3zM891.9 887.0h3V887.5h-3zM896.1 886.9h3V887.5h-3zM900.4 885.6h3V887.5h-3zM917.2 886.2h3V887.5h-3zM921.5 885.4h3V887.5h-3zM925.7 884.8h3V887.5h-3zM929.9 884.0h3V887.5h-3zM934.1 882.9h3V887.5h-3zM938.3 882.5h3V887.5h-3zM942.6 882.0h3V887.5h-3zM955.2 882.5h3V887.5h-3zM967.9 885.0h3V887.5h-3zM972.1 884.4h3V887.5h-3zM989.0 885.0h3V887.5h-3zM1094.4 887.0h3V887.5h-3zM1098.7 885.1h3V887.5h-3zM1102.9 882.4h3V887.5h-3zM1107.1 881.4h3V887.5h-3zM1111.3 880.5h3V887.5h-3zM1115.5 880.0h3V887.5h-3zM1132.4 881.5h3V887.5h-3zM1136.6 880.7h3V887.5h-3zM1140.8 880.5h3V887.5h-3zM1153.5 880.7h3V887.5h-3zM1157.7 880.1h3V887.5h-3zM1161.9 878.8h3V887.5h-3zM1166.2 876.2h3V887.5h-3zM1204.1 886.6h3V887.5h-3zM1212.6 887.0h3V887.5h-3zM1280.1 886.4h3V887.5h-3zM1284.3 885.5h3V887.5h-3zM1288.5 885.1h3V887.5h-3zM1364.4 887.0h3V887.5h-3zM1368.7 886.8h3V887.5h-3zM1372.9 885.1h3V887.5h-3zM1377.1 884.4h3V887.5h-3zM1381.3 883.9h3V887.5h-3zM1385.5 883.7h3V887.5h-3zM1389.8 883.3h3V887.5h-3zM1394.0 882.4h3V887.5h-3zM1398.2 882.0h3V887.5h-3zM1402.4 881.3h3V887.5h-3zM1419.3 882.3h3V887.5h-3zM1423.5 882.0h3V887.5h-3z" fill="#26a69a"/>
<path d="M1.7 885.4h3V887.5h-3zM6.0 887.0h3V887.5h-3zM132.5 884.1h3V887.5h-3zM136.7 884.6h3V887.5h-3zM141.0 885.1h3V887.5h-3zM145.2 885.7h3V887.5h-3zM149.4 886.3h3V887.5h-3zM153.6 886.8h3V887.5h-3zM157.8 887.0h3V887.5h-3zM183.2 886.5h3V887.5h-3z" fill="#b2dfdb" opacity="0.45"/>
<path d="M242.2 882.4h3V887.5h-3zM254.9 882.3h3V887.5h-3zM259.1 883.1h3V887.5h-3zM263.3 883.7h3V887.5h-3zM292.8 877.9h3V887.5h-3zM297.1 879.5h3V887.5h-3zM301.3 881.2h3V887.5h-3zM305.5 883.4h3V887.5h-3zM309.7 885.8h3V887.5h-3zM495.4 886.5h3V887.5h-3zM499.6 886.8h3V887.5h-3zM503.8 887.0h3V887.5h-3zM508.0 887.0h3V887.5h-3zM596.6 885.5h3V887.5h-3zM600.8 885.7h3V887.5h-3zM605.0 886.4h3V887.5h-3zM609.3 886.7h3V887.5h-3zM613.5 887.0h3V887.5h-3zM617.7 887.0h3V887.5h-3zM647.2 886.6h3V887.5h-3zM651.4 886.8h3V887.5h-3zM655.7 887.0h3V887.5h-3zM904.6 885.8h3V887.5h-3zM908.8 886.3h3V887.5h-3zM913.0 886.9h3V887.5h-3zM946.8 882.3h3V887.5h-3zM951.0 882.5h3V887.5h-3zM959.4 883.7h3V887.5h-3zM963.6 885.0h3V887.5h-3zM976.3 884.7h3V887.5h-3zM980.5 885.3h3V887.5h-3zM984.7 885.5h3V887.5h-3zM993.2 885.5h3V887.5h-3zM997.4 887.0h3V887.5h-3zM1119.7 880.0h3V887.5h-3zM1124.0 882.0h3V887.5h-3zM1128.2 882.4h3V887.5h-3zM1145.1 880.7h3V887.5h-3zM1149.3 881.1h3V887.5h-3zM1170.4 876.7h3V887.5h-3zM1174.6 877.6h3V887.5h-3zM1178.8 878.4h3V887.5h-3zM1183.0 879.2h3V887.5h-3zM1187.2 880.3h3V887.5h-3zM1191.5 881.6h3V887.5h-3zM1195.7 884.3h3V887.5h-3zM1199.9 886.9h3V887.5h-3zM1208.3 887.0h3V887.5h-3zM1406.6 881.7h3V887.5h-3zM1410.9 882.5h3V887.5h-3zM1415.1 882.8h3V887.5h-3z" fill="#b2dfdb"/>
<path d="M10.2 887.5h3V888.0h-3zM14.4 887.5h3V888.0h-3zM18.6 887.5h3V888.5h-3zM22.8 887.5h3V889.4h-3zM27.1 887.5h3V890.8h-3zM31.3 887.5h3V892.0h-3zM35.5 887.5h3V892.4h-3zM81.9 887.5h3V888.9h-3zM86.1 887.5h3V889.0h-3zM90.3 887.5h3V889.0h-3zM162.1 887.5h3V888.0h-3zM166.3 887.5h3V888.1h-3zM187.4 887.5h3V888.0h-3zM191.6 887.5h3V889.0h-3z" fill="#ff5252" opacity="0.45"/>
<path d="M195.8 887.5h3V890.3h-3zM200.0 887.5h3V891.6h-3zM204.2 887.5h3V892.2h-3zM313.9 887.5h3V888.0h-3zM318.2 887.5h3V888.7h-3zM322.4 887.5h3V889.8h-3zM326.6 887.5h3V890.0h-3zM330.8 887.5h3V890.4h-3zM335.0 887.5h3V890.9h-3zM339.3 887.5h3V891.5h-3zM343.5 887.5h3V892.5h-3zM347.7 887.5h3V893.6h-3zM394.1 887.5h3V889.5h-3zM398.3 887.5h3V889.5h-3zM402.5 887.5h3V889.6h-3zM406.8 887.5h3V889.9h-3zM411.0 887.5h3V890.1h-3zM415.2 887.5h3V890.3h-3zM419.4 887.5h3V890.5h-3zM423.6 887.5h3V890.8h-3zM427.8 887.5h3V891.2h-3zM432.1 887.5h3V891.2h-3zM436.3 887.5h3V891.2h-3zM440.5 887.5h3V891.2h-3zM444.7 887.5h3V891.2h-3zM448.9 887.5h3V891.3h-3zM453.2 887.5h3V891.8h-3zM512.2 887.5h3V888.0h-3zM516.4 887.5h3V888.1h-3zM520.7 887.5h3V888.3h-3zM524.9 887.5h3V888.5h-3zM529.1 887.5h3V888.7h-3zM533.3 887.5h3V889.0h-3zM537.5 887.5h3V890.9h-3zM541.8 887.5h3V893.5h-3zM546.0 887.5h3V895.0h-3zM550.2 887.5h3V895.2h-3zM702.1 887.5h3V888.1h-3zM706.3 887.5h3V888.7h-3zM710.5 887.5h3V888.9h-3zM740.0 887.5h3V888.1h-3zM744.3 887.5h3V888.4h-3zM748.5 887.5h3V888.7h-3zM765.4 887.5h3V888.5h-3zM782.2 887.5h3V888.0h-3zM786.5 887.5h3V888.4h-3zM790.7 887.5h3V889.1h-3zM794.9 887.5h3V889.8h-3zM807.5 887.5h3V889.9h-3zM811.8 887.5h3V890.6h-3zM816.0 887.5h3V891.5h-3zM820.2 887.5h3V892.2h-3zM824.4 887.5h3V892.8h-3zM828.6 887.5h3V893.7h-3zM832.9 887.5h3V894.8h-3zM862.4 887.5h3V890.4h-3zM866.6 887.5h3V892.2h-3zM1001.6 887.5h3V890.9h-3zM1005.8 887.5h3V892.0h-3zM1010.1 887.5h3V892.5h-3zM1014.3 887.5h3V892.5h-3zM1018.5 887.5h3V893.2h-3zM1022.7 887.5h3V894.3h-3zM1035.4 887.5h3V893.6h-3zM1039.6 887.5h3V894.1h-3zM1043.8 887.5h3V895.2h-3zM1048.0 887.5h3V896.9h-3zM1052.2 887.5h3V898.2h-3zM1056.5 887.5h3V898.5h-3zM1216.8 887.5h3V888.0h-3zM1221.0 887.5h3V888.8h-3zM1225.2 887.5h3V890.2h-3zM1229.4 887.5h3V891.5h-3zM1233.7 887.5h3V892.5h-3zM1237.9 887.5h3V893.6h-3zM1242.1 887.5h3V894.7h-3zM1246.3 887.5h3V895.5h-3zM1250.5 887.5h3V896.1h-3zM1292.7 887.5h3V888.0h-3zM1296.9 887.5h3V888.4h-3zM1301.2 887.5h3V888.8h-3zM1305.4 887.5h3V888.9h-3zM1322.3 887.5h3V888.6h-3zM1326.5 887.5h3V889.2h-3zM1330.7 887.5h3V890.0h-3zM1356.0 887.5h3V888.6h-3z" fill="#ff5252"/>
<path d="M39.7 887.5h3V892.1h-3zM43.9 887.5h3V891.5h-3zM48.1 887.5h3V891.0h-3zM52.4 887.5h3V890.6h-3zM56.6 887.5h3V890.0h-3zM60.8 887.5h3V889.5h-3zM65.0 887.5h3V889.2h-3zM69.2 887.5h3V888.9h-3zM73.5 887.5h3V888.8h-3zM77.7 887.5h3V888.8h-3zM94.6 887.5h3V888.5h-3zM98.8 887.5h3V888.0h-3zM170.5 887.5h3V888.0h-3z" fill="#ffcdd2" opacity="0.45"/>
<path d="M208.5 887.5h3V891.1h-3zM212.7 887.5h3V889.6h-3zM216.9 887.5h3V888.5h-3zM351.9 887.5h3V893.1h-3zM356.1 887.5h3V892.3h-3zM360.3 887.5h3V891.6h-3zM364.6 887.5h3V891.0h-3zM368.8 887.5h3V890.7h-3zM373.0 887.5h3V890.6h-3zM377.2 887.5h3V890.5h-3zM381.4 887.5h3V890.1h-3zM385.7 887.5h3V889.7h-3zM389.9 887.5h3V889.5h-3zM457.4 887.5h3V891.3h-3zM461.6 887.5h3V890.3h-3zM465.8 887.5h3V889.5h-3zM470.0 887.5h3V888.6h-3zM474.3 887.5h3V888.0h-3zM554.4 887.5h3V894.7h-3zM558.6 887.5h3V893.9h-3zM562.9 887.5h3V893.0h-3zM567.1 887.5h3V892.2h-3zM571.3 887.5h3V891.0h-3zM575.5 887.5h3V889.4h-3zM579.7 887.5h3V888.0h-3zM714.7 887.5h3V888.8h-3zM719.0 887.5h3V888.4h-3zM723.2 887.5h3V888.3h-3zM727.4 887.5h3V888.2h-3zM731.6 887.5h3V888.1h-3zM735.8 887.5h3V888.0h-3zM752.7 887.5h3V888.6h-3zM756.9 887.5h3V888.5h-3zM761.1 887.5h3V888.5h-3zM769.6 887.5h3V888.2h-3zM799.1 887.5h3V889.6h-3zM803.3 887.5h3V889.2h-3zM837.1 887.5h3V894.2h-3zM841.3 887.5h3V893.6h-3zM845.5 887.5h3V893.0h-3zM849.7 887.5h3V891.7h-3zM854.0 887.5h3V890.4h-3zM858.2 887.5h3V889.8h-3zM870.8 887.5h3V891.2h-3zM875.1 887.5h3V889.1h-3zM1026.9 887.5h3V893.9h-3zM1031.2 887.5h3V893.5h-3zM1060.7 887.5h3V897.4h-3zM1064.9 887.5h3V896.4h-3zM1069.1 887.5h3V895.3h-3zM1073.3 887.5h3V894.3h-3zM1077.6 887.5h3V893.2h-3zM1081.8 887.5h3V892.2h-3zM1086.0 887.5h3V891.2h-3zM1090.2 887.5h3V890.0h-3zM1254.8 887.5h3V895.2h-3zM1259.0 887.5h3V893.7h-3zM1263.2 887.5h3V892.1h-3zM1267.4 887.5h3V890.6h-3zM1271.6 887.5h3V889.2h-3zM1275.8 887.5h3V888.0h-3zM1309.6 887.5h3V888.8h-3zM1313.8 887.5h3V888.6h-3zM1318.0 887.5h3V888.2h-3zM1334.9 887.5h3V889.3h-3zM1339.1 887.5h3V888.9h-3zM1343.3 887.5h3V888.5h-3zM1347.6 887.5h3V888.3h-3zM1351.8 887.5h3V888.3h-3zM1360.2 887.5h3V888.2h-3z" fill="#ffcdd2"/>
<path d="M0.0 894.4C1.7 894.5 6.7 894.8 10.0 894.9C13.3 895.1 17.1 894.8 20.0 895.4C22.9 896.1 24.6 897.6 27.5 898.7C30.4 899.8 33.7 901.3 37.5 901.9C41.2 902.6 45.4 902.4 49.9 902.4C54.5 902.5 60.3 902.5 64.9 902.4C69.5 902.4 73.2 901.9 77.4 901.9C81.6 902.0 86.1 902.9 89.9 902.9C93.6 902.9 96.1 902.5 99.9 901.9C103.6 901.4 108.2 900.6 112.4 899.4C116.5 898.3 120.3 896.0 124.8 894.9C129.4 893.9 134.8 893.4 139.8 892.9C144.8 892.5 149.8 892.4 154.8 892.4C159.8 892.4 165.6 893.2 169.8 892.9C173.9 892.7 176.4 891.4 179.8 891.2C183.1 891.0 186.4 891.1 189.8 891.9C193.1 892.8 196.8 895.1 199.8 896.2C202.7 897.3 204.3 898.6 207.2 898.7C210.2 898.8 214.3 897.6 217.2 896.9C220.1 896.2 221.8 895.8 224.7 894.4C227.6 893.1 231.4 890.5 234.7 888.7C238.0 886.9 241.4 885.1 244.7 883.7C248.0 882.3 251.4 881.3 254.7 880.5C258.0 879.6 261.3 879.6 264.7 878.7C268.0 877.8 271.7 876.8 274.7 875.0C277.6 873.1 279.7 869.6 282.1 867.5C284.6 865.4 287.1 863.6 289.6 862.5C292.1 861.3 294.6 860.9 297.1 860.5C299.6 860.1 302.1 859.7 304.6 860.0C307.1 860.2 309.6 860.9 312.1 862.0C314.6 863.0 316.7 865.1 319.6 866.2C322.5 867.4 326.3 867.9 329.6 868.7C332.9 869.6 336.2 870.4 339.6 871.2C342.9 872.1 346.2 873.1 349.6 873.7C352.9 874.3 356.2 874.4 359.6 875.0C362.9 875.5 366.1 876.3 369.5 877.0C372.9 877.6 376.6 878.4 380.0 878.7C383.4 879.0 386.6 878.5 390.0 878.7C393.3 878.9 396.6 879.4 400.0 880.0C403.3 880.5 406.6 881.3 410.0 882.0C413.3 882.6 416.6 883.1 419.9 883.7C423.3 884.3 426.6 884.8 429.9 885.5C433.3 886.1 436.6 886.7 439.9 887.5C443.2 888.2 446.6 889.3 449.9 890.0C453.2 890.6 457.0 891.0 459.9 891.2C462.8 891.4 464.9 891.6 467.4 891.2C469.9 890.8 472.0 889.5 474.9 888.7C477.8 887.9 481.5 886.7 484.9 886.2C488.2 885.7 491.5 885.5 494.8 885.5C498.2 885.4 501.5 885.5 504.8 885.7C508.2 886.0 511.5 886.7 514.8 887.0C518.1 887.2 521.5 887.2 524.8 887.5C528.1 887.7 532.3 888.1 534.8 888.7C537.3 889.3 538.1 890.0 539.8 891.2C541.5 892.4 543.1 894.7 544.8 896.2C546.4 897.6 547.7 899.0 549.8 899.9C551.9 900.9 554.8 901.4 557.3 901.9C559.8 902.4 562.7 902.8 564.8 902.9C566.8 903.1 567.7 903.2 569.8 902.9C571.8 902.6 574.7 901.9 577.2 901.2C579.7 900.5 582.2 899.5 584.7 898.7C587.2 897.9 589.7 896.8 592.2 896.2C594.7 895.6 596.8 895.2 599.7 894.9C602.6 894.7 606.4 895.0 609.7 894.9C613.0 894.9 616.4 894.4 619.7 894.4C623.0 894.4 626.3 895.1 629.7 894.9C633.0 894.8 636.3 894.1 639.7 893.7C643.0 893.3 646.3 892.6 649.7 892.4C653.0 892.3 656.3 892.9 659.6 892.9C663.0 893.0 666.3 892.9 669.6 892.9C673.0 892.9 676.3 892.9 679.6 892.9C682.9 892.9 686.3 892.9 689.6 892.9C692.9 892.9 696.3 892.7 699.6 892.9C702.9 893.2 706.2 894.1 709.6 894.4C712.9 894.8 716.2 894.9 719.6 894.9C722.9 895.0 726.2 894.9 729.6 894.9C732.9 894.9 736.1 894.9 739.5 894.9C742.9 895.0 746.6 895.3 750.0 895.4C753.4 895.6 756.6 895.7 760.0 895.7C763.3 895.7 766.6 895.5 770.0 895.4C773.3 895.4 776.6 895.1 780.0 895.4C783.3 895.8 786.6 897.0 789.9 897.4C793.3 897.9 796.6 897.9 799.9 898.2C803.3 898.5 806.6 898.3 809.9 899.2C813.2 900.1 817.0 902.5 819.9 903.7C822.8 904.8 824.9 905.1 827.4 906.2C829.9 907.2 832.4 909.1 834.9 909.9C837.4 910.8 840.3 910.8 842.4 911.2C844.5 911.6 845.3 912.5 847.4 912.4C849.4 912.3 852.8 910.8 854.9 910.4C856.9 910.0 857.8 909.3 859.9 909.9C861.9 910.5 865.3 913.4 867.3 914.2C869.4 914.9 870.7 914.8 872.3 914.4C874.0 914.0 875.2 912.9 877.3 911.9C879.4 911.0 882.3 909.1 884.8 908.7C887.3 908.3 889.8 909.6 892.3 909.4C894.8 909.3 897.3 908.5 899.8 907.9C902.3 907.4 904.8 906.3 907.3 906.2C909.8 906.0 912.3 907.1 914.8 906.9C917.3 906.7 919.8 905.7 922.3 904.9C924.8 904.2 926.8 903.7 929.8 902.4C932.7 901.2 936.8 898.6 939.8 897.4C942.7 896.3 944.7 896.2 947.2 895.4C949.7 894.7 952.2 893.4 954.7 892.9C957.2 892.5 959.7 893.0 962.2 892.9C964.7 892.9 967.2 892.8 969.7 892.4C972.2 892.1 974.7 891.1 977.2 890.7C979.7 890.3 982.2 890.2 984.7 890.0C987.2 889.7 990.1 889.2 992.2 889.2C994.3 889.2 995.5 889.1 997.2 890.0C998.8 890.8 1000.1 893.2 1002.2 894.4C1004.3 895.7 1007.2 896.6 1009.7 897.4C1012.2 898.3 1014.7 898.4 1017.2 899.4C1019.7 900.5 1022.1 902.6 1024.6 903.7C1027.1 904.8 1030.1 905.6 1032.1 906.2C1034.2 906.8 1035.0 906.6 1037.1 907.4C1039.2 908.3 1042.1 909.3 1044.6 911.2C1047.1 913.0 1049.6 916.6 1052.1 918.7C1054.6 920.7 1057.1 922.5 1059.6 923.7C1062.1 924.8 1064.6 925.2 1067.1 925.4C1069.6 925.6 1072.1 924.7 1074.6 924.9C1077.1 925.2 1079.6 926.6 1082.1 926.9C1084.6 927.2 1087.5 927.2 1089.6 926.9C1091.6 926.6 1092.5 926.1 1094.6 924.9C1096.6 923.7 1099.6 921.6 1102.0 919.9C1104.5 918.2 1107.0 916.6 1109.5 914.9C1112.0 913.3 1114.9 911.4 1117.0 909.9C1119.2 908.5 1120.3 906.7 1122.5 906.2C1124.6 905.7 1127.5 907.8 1130.0 906.9C1132.5 906.1 1135.0 902.8 1137.5 901.2C1140.0 899.6 1142.4 898.4 1144.9 897.4C1147.4 896.5 1149.9 896.5 1152.4 895.4C1154.9 894.4 1157.4 893.4 1159.9 891.2C1162.4 889.0 1164.9 884.7 1167.4 882.5C1169.9 880.3 1172.4 879.1 1174.9 878.0C1177.4 876.8 1179.9 876.3 1182.4 875.7C1184.9 875.1 1187.8 874.5 1189.9 874.5C1192.0 874.4 1193.2 874.9 1194.9 875.5C1196.5 876.1 1197.8 877.6 1199.9 878.0C1202.0 878.3 1204.9 877.3 1207.4 877.5C1209.9 877.6 1212.4 878.2 1214.9 878.7C1217.4 879.2 1219.9 879.2 1222.3 880.5C1224.8 881.7 1227.3 884.6 1229.8 886.2C1232.3 887.8 1234.8 888.6 1237.3 890.0C1239.8 891.3 1242.3 893.1 1244.8 894.4C1247.3 895.8 1249.4 897.3 1252.3 897.9C1255.2 898.6 1259.4 898.4 1262.3 898.2C1265.2 898.0 1267.3 897.6 1269.8 896.9C1272.3 896.3 1274.8 895.5 1277.3 894.4C1279.8 893.4 1282.7 891.1 1284.8 890.4C1286.8 889.8 1287.7 890.0 1289.8 890.4C1291.8 890.9 1294.8 892.4 1297.3 892.9C1299.8 893.5 1302.2 893.4 1304.7 893.7C1307.2 893.9 1309.7 894.3 1312.2 894.4C1314.7 894.6 1316.8 894.2 1319.7 894.4C1322.6 894.7 1326.4 895.9 1329.7 896.2C1333.0 896.5 1336.4 896.2 1339.7 896.2C1343.0 896.2 1346.4 896.2 1349.7 896.2C1353.0 896.2 1356.8 896.3 1359.7 896.2C1362.6 896.1 1364.7 896.2 1367.2 895.4C1369.7 894.7 1372.2 892.9 1374.7 891.9C1377.2 890.9 1379.7 890.4 1382.1 889.5C1384.6 888.5 1387.1 887.3 1389.6 886.2C1392.1 885.1 1394.6 883.9 1397.1 883.0C1399.6 882.0 1402.1 881.0 1404.6 880.5C1407.1 880.0 1410.0 880.3 1412.1 880.0C1414.2 879.7 1415.0 879.5 1417.1 878.7C1419.2 877.9 1423.3 875.6 1424.6 875.0" fill="none" stroke="#2962ff" stroke-width="1.6" stroke-linejoin="round"/>
<path d="M0.0 896.2C1.7 896.1 6.7 895.7 10.0 895.4C13.3 895.2 16.6 894.6 20.0 894.9C23.3 895.3 26.6 896.7 30.0 897.4C33.3 898.2 36.6 898.9 40.0 899.4C43.3 899.9 45.8 900.1 49.9 900.4C54.1 900.8 60.3 901.4 64.9 901.7C69.5 901.9 73.2 901.8 77.4 901.9C81.6 902.1 86.1 902.4 89.9 902.4C93.6 902.4 96.1 902.4 99.9 901.9C103.6 901.5 108.2 900.7 112.4 899.9C116.5 899.2 120.3 898.3 124.8 897.4C129.4 896.6 134.8 895.6 139.8 894.9C144.8 894.3 149.8 893.9 154.8 893.7C159.8 893.5 165.6 893.8 169.8 893.7C173.9 893.6 176.4 893.1 179.8 892.9C183.1 892.8 186.4 892.7 189.8 892.9C193.1 893.2 196.4 893.9 199.8 894.4C203.1 895.0 206.4 895.9 209.7 896.2C213.1 896.5 216.4 896.5 219.7 896.2C223.1 895.9 226.4 895.3 229.7 894.4C233.0 893.6 236.4 892.4 239.7 891.2C243.0 890.0 246.4 888.6 249.7 887.5C253.0 886.3 256.3 885.5 259.7 884.5C263.0 883.4 266.3 882.3 269.7 881.2C273.0 880.1 276.3 879.4 279.7 878.0C283.0 876.5 286.3 874.2 289.6 872.5C293.0 870.7 296.3 868.8 299.6 867.5C303.0 866.1 306.3 865.0 309.6 864.5C312.9 864.0 316.3 864.2 319.6 864.5C322.9 864.8 326.3 865.6 329.6 866.2C332.9 866.8 336.2 867.3 339.6 868.0C342.9 868.7 346.2 869.6 349.6 870.5C352.9 871.3 356.2 872.2 359.6 873.0C362.9 873.7 366.1 874.5 369.5 875.0C372.9 875.4 376.6 875.4 380.0 875.7C383.4 876.1 386.6 876.6 390.0 877.0C393.3 877.3 396.6 877.5 400.0 878.0C403.3 878.4 406.6 878.9 410.0 879.5C413.3 880.0 416.6 880.6 419.9 881.2C423.3 881.8 426.6 882.3 429.9 883.0C433.3 883.6 436.6 884.3 439.9 885.0C443.2 885.6 446.6 886.3 449.9 887.0C453.2 887.6 456.6 888.3 459.9 888.7C463.2 889.1 466.5 889.2 469.9 889.2C473.2 889.2 476.5 889.0 479.9 888.7C483.2 888.4 486.5 887.7 489.9 887.5C493.2 887.2 496.5 887.1 499.8 887.0C503.2 886.8 506.5 886.7 509.8 886.7C513.2 886.7 516.5 886.8 519.8 887.0C523.1 887.1 526.9 887.3 529.8 887.5C532.7 887.6 534.8 887.3 537.3 888.0C539.8 888.6 542.3 890.0 544.8 891.2C547.3 892.4 549.8 893.9 552.3 894.9C554.8 896.0 557.3 896.7 559.8 897.4C562.3 898.1 564.8 898.8 567.3 899.2C569.8 899.6 572.2 899.9 574.7 899.9C577.2 900.0 579.7 899.7 582.2 899.4C584.7 899.1 586.8 898.6 589.7 898.2C592.6 897.8 596.4 897.3 599.7 896.9C603.0 896.6 606.4 896.4 609.7 896.2C613.0 895.9 616.4 895.7 619.7 895.4C623.0 895.2 626.3 895.1 629.7 894.9C633.0 894.8 636.3 894.7 639.7 894.4C643.0 894.2 646.3 893.9 649.7 893.7C653.0 893.5 656.3 893.3 659.6 893.2C663.0 893.1 666.3 893.2 669.6 893.2C673.0 893.2 676.3 893.0 679.6 892.9C682.9 892.9 686.3 892.9 689.6 892.9C692.9 892.9 696.3 892.9 699.6 892.9C702.9 893.0 706.2 893.3 709.6 893.4C712.9 893.6 716.2 893.8 719.6 893.9C722.9 894.1 726.2 894.4 729.6 894.4C732.9 894.5 736.1 894.4 739.5 894.4C742.9 894.5 746.6 894.8 750.0 894.9C753.4 895.1 756.6 895.4 760.0 895.4C763.3 895.5 766.6 895.5 770.0 895.4C773.3 895.4 776.6 895.2 780.0 895.2C783.3 895.2 786.6 895.5 789.9 895.7C793.3 895.9 796.6 896.2 799.9 896.4C803.3 896.7 806.6 896.9 809.9 897.4C813.2 897.9 816.6 898.6 819.9 899.4C823.2 900.3 826.6 901.4 829.9 902.4C833.2 903.4 836.5 904.5 839.9 905.4C843.2 906.3 846.5 907.3 849.9 907.9C853.2 908.6 856.5 908.7 859.9 909.2C863.2 909.6 866.5 910.4 869.8 910.7C873.2 910.9 876.5 910.8 879.8 910.7C883.2 910.5 886.5 910.1 889.8 909.9C893.1 909.7 896.5 909.7 899.8 909.4C903.1 909.2 906.5 908.8 909.8 908.4C913.1 908.1 916.4 907.9 919.8 907.4C923.1 906.9 926.4 906.3 929.8 905.4C933.1 904.6 936.4 903.4 939.8 902.4C943.1 901.4 946.4 900.4 949.7 899.4C953.1 898.5 956.4 897.4 959.7 896.7C963.1 895.9 966.4 895.5 969.7 894.9C973.0 894.4 976.4 893.7 979.7 893.2C983.0 892.7 986.4 892.3 989.7 891.9C993.0 891.6 997.2 891.1 999.7 891.2C1002.2 891.3 1002.6 891.9 1004.7 892.4C1006.7 893.0 1009.2 893.7 1012.2 894.4C1015.1 895.2 1018.8 896.0 1022.1 896.9C1025.5 897.9 1029.2 899.0 1032.1 899.9C1035.0 900.9 1036.7 901.2 1039.6 902.4C1042.5 903.7 1046.3 905.6 1049.6 907.4C1052.9 909.3 1056.3 911.9 1059.6 913.7C1062.9 915.4 1066.3 916.7 1069.6 917.9C1072.9 919.2 1076.2 920.2 1079.6 921.2C1082.9 922.1 1086.7 923.2 1089.6 923.7C1092.5 924.2 1094.6 924.4 1097.1 924.2C1099.6 923.9 1102.0 923.2 1104.5 922.4C1107.0 921.6 1110.3 920.3 1112.0 919.4C1113.8 918.5 1113.2 917.9 1115.0 916.9C1116.7 916.0 1120.0 914.6 1122.5 913.7C1125.0 912.7 1127.5 912.1 1130.0 911.2C1132.5 910.2 1135.0 909.1 1137.5 907.9C1140.0 906.8 1142.4 905.6 1144.9 904.4C1147.4 903.3 1149.9 902.1 1152.4 901.2C1154.9 900.2 1157.4 899.9 1159.9 898.7C1162.4 897.4 1164.9 895.4 1167.4 893.7C1169.9 892.0 1172.4 890.2 1174.9 888.7C1177.4 887.2 1179.9 885.7 1182.4 884.5C1184.9 883.2 1187.0 882.0 1189.9 881.2C1192.8 880.5 1196.5 880.3 1199.9 880.0C1203.2 879.7 1206.9 879.5 1209.9 879.5C1212.8 879.4 1214.9 879.2 1217.4 879.5C1219.9 879.8 1222.3 880.5 1224.8 881.2C1227.3 881.9 1229.8 882.8 1232.3 883.7C1234.8 884.7 1237.3 885.9 1239.8 887.0C1242.3 888.0 1244.8 889.0 1247.3 890.0C1249.8 890.9 1252.3 891.7 1254.8 892.4C1257.3 893.2 1259.4 894.0 1262.3 894.4C1265.2 894.9 1269.4 894.9 1272.3 894.9C1275.2 895.0 1277.3 895.2 1279.8 894.9C1282.3 894.7 1284.8 894.0 1287.3 893.7C1289.8 893.4 1291.8 892.9 1294.8 892.9C1297.7 892.9 1301.4 893.4 1304.7 893.7C1308.1 893.9 1311.4 894.2 1314.7 894.4C1318.1 894.7 1321.4 894.7 1324.7 894.9C1328.0 895.2 1331.4 895.5 1334.7 895.7C1338.0 895.9 1341.4 895.9 1344.7 895.9C1348.0 896.0 1351.4 896.2 1354.7 896.2C1358.0 896.2 1361.8 896.3 1364.7 896.2C1367.6 896.1 1369.7 895.9 1372.2 895.4C1374.7 895.0 1377.2 894.4 1379.7 893.7C1382.1 893.0 1384.6 892.0 1387.1 891.2C1389.6 890.4 1392.1 889.4 1394.6 888.7C1397.1 888.0 1399.6 887.6 1402.1 887.0C1404.6 886.3 1407.1 885.6 1409.6 885.0C1412.1 884.3 1414.6 883.7 1417.1 883.0C1419.6 882.3 1423.3 881.1 1424.6 880.7" fill="none" stroke="#ff6d00" stroke-width="1.6" stroke-linejoin="round"/>
</svg>
<svg x="0" y="0" width="1432" height="850" viewBox="0 0 1432 850"><circle cx="1424.2" cy="833.7" r="13.4" fill="#120f14" stroke="#b84dd4" stroke-width="2.2"/><path d="M1428.5 826.9L1418.8 834.2L1424.2 834.8L1420.1 841L1430.8 833.3L1425.3 832.5Z" fill="#b84dd4"/><circle cx="1431.6" cy="824.2" r="3.6" fill="#0a0a0c"/><circle cx="1431.6" cy="824.2" r="2" fill="#f44336"/></svg>
<line x1="1432.5" y1="0" x2="1432.5" y2="972" stroke="#4a4a50" stroke-width="1.8"/>
<rect x="0" y="850.1" width="1522" height="2" fill="#dedee6"/></svg>
<div class="pl" style="top:48.2px">153.400</div>
<div class="pl" style="top:93.4px">153.300</div>
<div class="pl" style="top:183.8px">153.100</div>
<div class="pl" style="top:229.0px">153.000</div>
<div class="pl" style="top:274.2px">152.900</div>
<div class="pl" style="top:319.3px">152.800</div>
<div class="pl" style="top:364.5px">152.700</div>
<div class="pl" style="top:409.7px">152.600</div>
<div class="pl" style="top:454.9px">152.500</div>
<div class="pl" style="top:500.1px">152.400</div>
<div class="pl" style="top:545.3px">152.300</div>
<div class="pl" style="top:590.5px">152.200</div>
<div class="pl" style="top:680.9px">152.000</div>
<div class="pl" style="top:726.0px">151.900</div>
<div class="pl" style="top:771.2px">151.800</div>
<div class="pl" style="top:816.4px">151.700</div>
<div class="tag" style="left:1385.8px;width:129.8px;top:133.2px;height:21.8px;background:#19326b"><span style="left:5.6px;top:3.6px;font-size:15.4px;letter-spacing:0.75px">High</span><span style="left:59.7px;top:4.2px">153.200</span></div>
<div class="tag" style="top:603px;height:39.2px;background:#089981;border-radius:2px 3px 3px 0"><span style="top:3.85px">152.161</span><span style="left:10.6px;top:21.5px;color:#bfe6de;letter-spacing:1.15px">04:01</span></div>
<div class="tag" style="top:642.4px;height:21.1px;background:#f23645"><span style="top:3.9px">152.159</span></div>
<div class="tag" style="top:682.9px;height:21.6px;background:#2962ff"><span style="top:4.1px">151.985</span></div>
<div class="tag" style="top:761.2px;height:21.8px;background:#089981"><span style="top:4.2px">151.812</span></div>
<div class="tag" style="left:1391.8px;width:123.8px;top:785.4px;height:21.4px;background:#19326b"><span style="left:5.2px;top:3.4px;font-size:15.4px;letter-spacing:0.75px">Low</span><span style="left:53.7px;top:4.0px">151.759</span></div>
<div class="tag" style="top:852.2px;height:19.6px;width:62.4px;background:#ff6d00;border-radius:0 0 3px 0"><span style="left:11.4px;top:2.2px">0.025</span></div>
<div class="tag" style="top:872.2px;height:21px;width:62.4px;background:#26a69a;border-radius:0 3px 3px 0"><span style="left:11.4px;top:3px">0.019</span></div>
<div style="position:absolute;left:1437.3px;top:5px;width:79.3px;height:35.6px;box-sizing:border-box;border:1.9px solid #444;border-radius:6px;background:#0e0e0e"></div>
<div class="t" style="left:1443px;top:14.6px;font-size:16.4px;letter-spacing:0.1px;color:#e6e6e6;-webkit-text-stroke:0.2px #e6e6e6">JPY</div>
<svg width="14" height="10" viewBox="0 0 14 10" style="left:1499.4px;top:18.4px"><path d="M3.3 4.1L6.45 6.7L9.6 4.1" fill="none" stroke="#e8e8e8" stroke-width="2.2" stroke-linecap="round" stroke-linejoin="round"/></svg>
<div style="position:absolute;left:6px;top:7px;width:340px;height:34px;background:rgba(0,0,0,0.5)"></div>
<div style="position:absolute;left:6px;top:41px;width:242px;height:26px;background:rgba(0,0,0,0.5)"></div>
<div style="position:absolute;left:6px;top:67px;width:258px;height:55px;background:rgba(0,0,0,0.5)"></div>
<svg width="44" height="44" viewBox="0 0 44 44" style="left:0;top:0">
<circle cx="30.2" cy="18.5" r="8.4" fill="#f1f1f6"/><circle cx="30.2" cy="18.4" r="3.3" fill="#f2405a"/>
<circle cx="21" cy="27" r="10.6" fill="#000"/>
<clipPath id="us"><circle cx="21" cy="27" r="8.9"/></clipPath>
<g clip-path="url(#us)"><rect x="11" y="17" width="20" height="20" fill="#f4f4f8"/>
<rect x="11" y="17" width="20" height="4.9" fill="#f44336"/><rect x="11" y="24.8" width="20" height="4" fill="#f44336"/><rect x="11" y="31.6" width="20" height="5" fill="#f44336"/>
<rect x="11" y="17" width="12" height="11.8" fill="#1e88e5"/>
<g fill="#e4efff"><rect x="14.0" y="20.2" width="1.6" height="1.4"/><rect x="17.0" y="20.2" width="1.6" height="1.4"/><rect x="20.0" y="20.2" width="1.6" height="1.4"/><rect x="14.0" y="23.0" width="1.6" height="1.4"/><rect x="17.0" y="23.0" width="1.6" height="1.4"/><rect x="20.0" y="23.0" width="1.6" height="1.4"/><rect x="14.0" y="25.8" width="1.6" height="1.4"/><rect x="17.0" y="25.8" width="1.6" height="1.4"/><rect x="20.0" y="25.8" width="1.6" height="1.4"/></g>
</g></svg>
<div class="t" style="left:43.4px;top:11.5px;font-size:22.9px;letter-spacing:-0.28px;color:#ececec;-webkit-text-stroke:0.25px #ececec">U.S. Dollar / Japanese Yen · 5</div>
<div class="t" style="left:11.6px;top:44.8px;font-size:17.5px;letter-spacing:1.35px;color:#f23645;-webkit-text-stroke:0.3px #f23645">152.161</div>
<div class="t" style="left:94.0px;top:44.8px;font-size:17.5px;letter-spacing:1.35px;color:#f23645;-webkit-text-stroke:0.3px #f23645">−0.709</div>
<div class="t" style="left:162.4px;top:44.8px;font-size:17.5px;letter-spacing:1.2px;color:#f23645;-webkit-text-stroke:0.3px #f23645">(−0.46%)</div>
<div class="box" style="left:11.2px;border:2px solid #f23645;color:#f23645"><b>152.16<sup>5</sup></b><i>SELL</i></div>
<div class="t" style="left:123.8px;top:87.3px;font-size:14.4px;letter-spacing:0.6px;color:#d4d4d4">0.1</div>
<div class="box" style="left:157.7px;border:2px solid #2962ff;color:#2962ff"><b>152.16<sup>6</sup></b><i>BUY</i></div>
<div class="t" style="left:8px;top:130px;width:172px;height:22px;background:rgba(0,0,0,0.55)"></div>
<div class="t" style="left:12.4px;top:132.4px;font-size:17px;letter-spacing:1.17px;color:#ececec;-webkit-text-stroke:0.2px #ececec">BB 20 SMA close 2</div>
<div style="position:absolute;left:11.4px;top:162px;width:44.8px;height:34.8px;box-sizing:border-box;border:1.5px solid #444;border-radius:5px;background:rgba(0,0,0,0.68)"></div>
<svg width="24" height="14" viewBox="0 0 24 14" style="left:21.8px;top:172.4px"><path d="M4.4 10.2L12 3.6L19.6 10.2" fill="none" stroke="#ececec" stroke-width="1.9" stroke-linecap="round" stroke-linejoin="round"/></svg>
<div class="t" style="left:12.6px;top:867px;font-size:17px;letter-spacing:1.22px;color:#ececec;-webkit-text-stroke:0.2px #ececec">MACD 12 26 close</div>
<div style="position:absolute;left:0;top:895.5px;width:1522px;height:76.5px;background:rgba(176,176,176,0.58)"></div>
<div style="position:absolute;left:0;top:935.3px;width:1522px;height:2px;background:#8c8c8c"></div>
<div style="position:absolute;left:48.45px;top:895.2px;width:2px;height:40.2px;background:rgba(255,255,255,0.11)"></div>
<div style="position:absolute;left:124.39px;top:895.2px;width:2px;height:40.2px;background:rgba(255,255,255,0.11)"></div>
<div style="position:absolute;left:200.33px;top:895.2px;width:2px;height:40.2px;background:rgba(255,255,255,0.11)"></div>
<div style="position:absolute;left:276.27px;top:895.2px;width:2px;height:40.2px;background:rgba(255,255,255,0.11)"></div>
<div style="position:absolute;left:352.21px;top:895.2px;width:2px;height:40.2px;background:rgba(255,255,255,0.11)"></div>
<div style="position:absolute;left:428.15px;top:895.2px;width:2px;height:40.2px;background:rgba(255,255,255,0.11)"></div>
<div style="position:absolute;left:504.09px;top:895.2px;width:2px;height:40.2px;background:rgba(255,255,255,0.11)"></div>
<div style="position:absolute;left:580.03px;top:895.2px;width:2px;height:40.2px;background:rgba(255,255,255,0.11)"></div>
<div style="position:absolute;left:655.97px;top:895.2px;width:2px;height:40.2px;background:rgba(255,255,255,0.11)"></div>
<div style="position:absolute;left:731.91px;top:895.2px;width:2px;height:40.2px;background:rgba(255,255,255,0.11)"></div>
<div style="position:absolute;left:807.85px;top:895.2px;width:2px;height:40.2px;background:rgba(255,255,255,0.11)"></div>
<div style="position:absolute;left:883.79px;top:895.2px;width:2px;height:40.2px;background:rgba(255,255,255,0.11)"></div>
<div style="position:absolute;left:959.73px;top:895.2px;width:2px;height:40.2px;background:rgba(255,255,255,0.11)"></div>
<div style="position:absolute;left:1035.67px;top:895.2px;width:2px;height:40.2px;background:rgba(255,255,255,0.11)"></div>
<div style="position:absolute;left:1111.61px;top:895.2px;width:2px;height:40.2px;background:rgba(255,255,255,0.11)"></div>
<div style="position:absolute;left:1187.55px;top:895.2px;width:2px;height:40.2px;background:rgba(255,255,255,0.11)"></div>
<div style="position:absolute;left:1263.49px;top:895.2px;width:2px;height:40.2px;background:rgba(255,255,255,0.11)"></div>
<div style="position:absolute;left:1339.43px;top:895.2px;width:2px;height:40.2px;background:rgba(255,255,255,0.11)"></div>
<div style="position:absolute;left:1415.37px;top:895.2px;width:2px;height:40.2px;background:rgba(255,255,255,0.11)"></div>
<div style="position:absolute;left:1431.50px;top:895.2px;width:2px;height:77px;background:rgba(255,255,255,0.12)"></div>
<div style="position:absolute;left:0;top:937px;width:1432px;height:35px;overflow:hidden">
<div class="tl" style="left:49.5px;top:11.5px;">09:00</div>
<div class="tl" style="left:125.4px;top:11.5px;">10:30</div>
<div class="tl" style="left:201.3px;top:11.5px;">12:00</div>
<div class="tl" style="left:277.3px;top:11.5px;">13:30</div>
<div class="tl" style="left:353.2px;top:11.5px;">15:00</div>
<div class="tl" style="left:429.1px;top:11.5px;">16:30</div>
<div class="tl" style="left:505.1px;top:11.5px;">18:00</div>
<div class="tl" style="left:581.0px;top:11.5px;">19:30</div>
<div class="tl" style="left:657.0px;top:11.5px;">21:00</div>
<div class="tl" style="left:732.9px;top:11.5px;">22:30</div>
<div class="tl" style="left:808.9px;top:11.5px;font-weight:bold;">28</div>
<div class="tl" style="left:884.8px;top:11.5px;">01:30</div>
<div class="tl" style="left:960.7px;top:11.5px;">03:00</div>
<div class="tl" style="left:1036.7px;top:11.5px;">04:30</div>
<div class="tl" style="left:1112.6px;top:11.5px;">06:00</div>
<div class="tl" style="left:1188.5px;top:11.5px;">07:30</div>
<div class="tl" style="left:1264.5px;top:11.5px;">09:00</div>
<div class="tl" style="left:1340.4px;top:11.5px;">10:30</div>
<div class="tl" style="left:1416.4px;top:11.5px;">12:00</div>
</div>
<svg width="40" height="36" viewBox="1456 936 40 36" style="left:1456px;top:936px"><path d="M1467.9 955.1L1472.6 947H1482.6L1487.4 955.1L1482.6 963.2H1472.6Z" fill="none" stroke="#b6b6b6" stroke-width="1.9" stroke-linejoin="round"/><circle cx="1477.6" cy="955.1" r="2.9" fill="none" stroke="#b6b6b6" stroke-width="1.7"/></svg>
<svg width="300" height="92" viewBox="0 880 300 92" style="left:0;top:880px"><g fill="#e83b36"><path transform="translate(38.83,952.04) scale(0.03500,-0.03853)" d="M136 602V208H317C238 136 130 74 22 36C54 7 100 -50 122 -86C232 -39 337 35 421 124V-95H573V130C659 39 767 -40 878 -88C901 -49 947 9 982 39C872 76 761 138 681 208H871V602H573V644H950V779H573V855H421V779H54V644H421V602ZM278 356H421V315H278ZM573 356H722V315H573ZM278 495H421V455H278ZM573 495H722V455H573Z"/><path transform="translate(73.40,952.98) scale(0.03945,-0.04091)" d="M43 806V666H311V578H82V-91H223V-37H773V-91H921V578H675V666H953V806ZM223 96V226C250 204 280 177 293 160C422 229 452 344 454 445H528V362C528 246 549 207 660 207C682 207 712 207 735 207C749 207 762 208 773 210V96ZM667 445H773V352C759 358 748 365 740 371C737 339 733 333 718 333C711 333 691 333 685 333C669 333 667 335 667 363ZM454 578V666H529V578ZM223 272V445H319C317 387 303 324 223 272Z"/></g><polygon points="153.4,899.4 154.8,903.3 154.8,926.7 153.4,924.3" fill="#343434"/><polygon points="142.1,935.0 153.4,924.3 154.8,926.7 144.2,937.9" fill="#1b1b1b"/><polygon points="129.7,922.9 153.4,899.4 153.4,924.5 142.1,935.2" fill="#424242"/><polygon points="117.5,935.8 141.7,959.8 142.5,964.1 117.9,938.6" fill="#555557"/><polygon points="141.7,959.8 153.6,947.8 153.6,953.0 142.5,964.1" fill="#4a4a4c"/><polygon points="117.5,935.8 129.2,923.9 153.6,947.8 141.7,959.8" fill="#6d6d70"/><polygon points="190.8,937.4 191.7,940.3 179.2,953.0 178.5,949.7" fill="#e2514b"/><polygon points="177.4,949.7 179.2,953.0 156.8,975.4 153.4,973.6" fill="#c4312d"/><polygon points="153.4,947.9 164.3,937.0 177.5,949.8 153.4,973.9" fill="#ee3e38"/><polygon points="153.4,923.4 165.5,911.2 190.8,937.4 178.5,949.8 164.3,937.0 153.4,926.5" fill="#f0605a"/><g fill="#424242"><path d="M200.5 922.2H232.8V928.8H208V934.7H231.4V940.7H208V953.1H200.5Z"/><path d="M236.7 922.2H247.8L278 953.1H267.5Z"/><path d="M266.2 922.2H276.9L245.9 953.1H234.7Z"/></g></svg>
</body></html>
